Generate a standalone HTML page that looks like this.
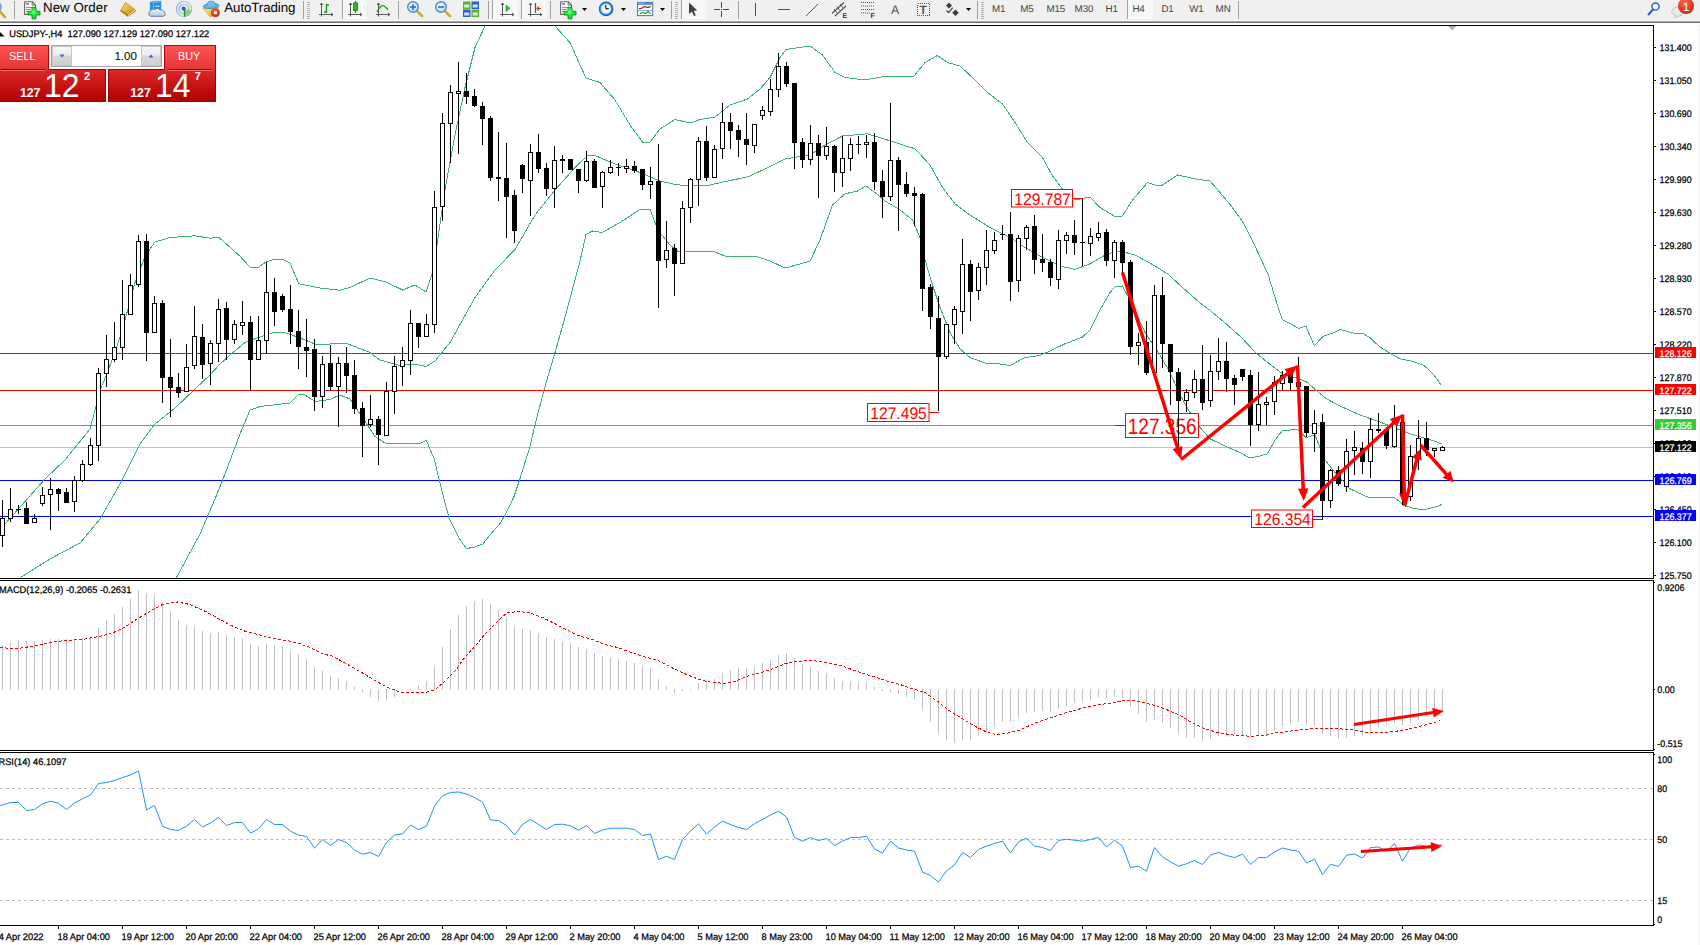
<!DOCTYPE html>
<html><head><meta charset="utf-8"><title>USDJPY-,H4</title>
<style>
html,body{margin:0;padding:0;background:#fff;}
body{width:1700px;height:945px;position:relative;overflow:hidden;font-family:"Liberation Sans",sans-serif;}
svg text{font-family:"Liberation Sans",sans-serif;text-rendering:geometricPrecision;}
.tb{letter-spacing:-0.1px;}
#tbar{position:absolute;left:0;top:0;width:1700px;height:26px;}
#chart{position:absolute;left:0;top:0;width:1700px;height:945px;}
#rstrip{position:absolute;left:1699px;top:23px;width:1px;height:922px;background:#ececec;}
.oc{position:absolute;color:#fff;}
#sell{left:0;top:45px;width:49px;height:25px;z-index:2;background:linear-gradient(#fc5454,#e43434);border:1px solid #b80000;border-bottom:none;border-left:none;box-sizing:border-box;}
#buy{left:164px;top:45px;width:52px;height:25px;z-index:2;background:linear-gradient(#fc5454,#e43434);border:1px solid #b80000;border-bottom:none;box-sizing:border-box;}
#sellp{left:0;top:69px;width:106px;height:33px;background:linear-gradient(#dc2828,#b00000);border:1px solid #a00000;border-left:none;box-sizing:border-box;}
#buyp{left:108px;top:69px;width:108px;height:33px;background:linear-gradient(#dc2828,#b00000);border:1px solid #a00000;box-sizing:border-box;}
.bt{position:absolute;font-size:11.6px;top:3.2px;line-height:13px;transform-origin:0 0;transform:scaleX(0.93);}
.ul{position:absolute;height:1px;background:#8c0000;box-shadow:0 1px 0 #f47070;top:23px;}
.sm{position:absolute;font-weight:bold;font-size:12.4px;line-height:12px;top:16.6px;letter-spacing:-0.1px;}
.bg{position:absolute;font-size:34px;line-height:34px;top:-1.6px;transform-origin:0 0;transform:scaleX(0.938);}
.sp{position:absolute;font-weight:bold;font-size:11px;line-height:11px;top:0.6px;}
#lot{position:absolute;left:51px;top:45px;width:111px;height:22px;border:1px solid #a4a4ac;background:#fff;box-sizing:border-box;}
.spin{position:absolute;top:0px;width:20px;height:20px;background:linear-gradient(#f6f6f6 0%,#ececec 45%,#d8d8d8 50%,#d0d0d0 100%);border:1px solid #c8c8cc;box-sizing:border-box;}
#lotv{position:absolute;right:24px;top:3.2px;font-size:11.6px;line-height:13px;color:#000;}
</style></head><body>
<svg id="chart" width="1700" height="945" viewBox="0 0 1700 945">
<rect x="0" y="25" width="1654" height="1" fill="#000"/>
<rect x="1653" y="25" width="1" height="901" fill="#000"/>
<rect x="0" y="578" width="1654" height="1" fill="#000"/>
<rect x="0" y="580" width="1654" height="1" fill="#000"/>
<rect x="0" y="750" width="1654" height="1" fill="#000"/>
<rect x="0" y="752" width="1654" height="1" fill="#000"/>
<rect x="0" y="925" width="1654" height="1" fill="#000"/>
<clipPath id="cm"><rect x="0" y="26" width="1653" height="552"/></clipPath>
<g clip-path="url(#cm)">
<rect x="0" y="353" width="1653" height="1" fill="#ff0000"/>
<rect x="0" y="390" width="1653" height="1" fill="#ff0000"/>
<rect x="0" y="425" width="1653" height="1" fill="#32cd32"/>
<rect x="0" y="447" width="1653" height="1" fill="#c0c0c0"/>
<rect x="0" y="480" width="1653" height="1" fill="#0000ff"/>
<rect x="0" y="516" width="1653" height="1" fill="#0000ff"/>
<g shape-rendering="crispEdges">
<polyline points="0.0,530.0 5.0,524.0 25.0,501.5 45.0,479.0 65.0,460.0 90.0,429.0 96.0,406.5 100.0,390.0 107.5,372.5 117.5,345.0 125.0,320.0 135.0,282.5 143.8,260.0 150.0,248.8 155.0,242.0 170.0,237.5 195.0,235.8 210.0,238.2 218.8,237.5 227.5,245.0 240.0,256.2 250.0,267.0 258.8,267.0 266.0,262.0 275.0,259.2 282.5,259.2 290.0,263.0 298.8,283.8 320.0,288.0 340.0,290.2 350.0,287.5 370.0,278.0 386.2,282.0 402.5,290.0 415.0,285.0 426.0,292.0 432.5,272.5 437.0,245.0 445.0,190.0 455.0,135.0 465.0,87.5 475.0,47.5 485.0,26.0 488.0,20.0" fill="none" stroke="#3cb371" stroke-width="1"/>
<polyline points="552.0,20.0 555.0,26.0 570.0,42.5 580.0,65.0 586.0,78.0 600.0,82.5 615.0,100.0 630.0,125.0 642.5,142.0 650.0,142.0 660.0,129.0 675.0,119.5 690.0,123.0 700.0,119.5 715.0,117.0 730.0,105.0 747.5,99.0 760.0,89.0 770.0,77.5 780.0,57.5 786.0,49.5 800.0,47.5 810.0,46.0 822.5,55.0 835.0,72.5 845.0,77.5 865.0,80.0 882.5,76.8 900.0,76.0 914.0,76.0 925.0,62.5 937.5,55.5 947.5,62.5 960.0,66.0 975.0,80.0 987.5,92.5 1002.5,104.0 1015.0,122.5 1027.5,142.5 1042.5,157.5 1052.5,176.0 1062.5,189.0 1075.0,200.0 1090.0,197.0 1100.0,207.5 1115.0,216.5 1122.5,216.0 1132.5,200.0 1147.5,182.5 1155.0,185.0 1162.5,185.0 1177.5,175.0 1195.0,178.8 1210.0,181.0 1219.5,192.0 1231.7,206.5 1243.8,223.5 1253.6,243.0 1268.2,274.7 1275.5,299.0 1282.3,319.7 1290.0,323.4 1298.6,328.3 1305.9,326.3 1314.4,345.8 1323.0,336.3 1331.5,333.6 1340.0,329.5 1353.4,333.1 1363.1,333.6 1370.4,338.0 1380.2,347.3 1389.9,353.1 1399.7,358.7 1411.8,361.1 1424.0,365.5 1433.7,374.5 1441.5,385.5" fill="none" stroke="#3cb371" stroke-width="1"/>
<polyline points="20.0,577.8 50.0,559.0 80.0,543.0 100.0,519.0 120.0,484.0 140.0,444.0 155.0,424.0 175.0,408.0 195.0,389.0 210.0,375.0 220.0,364.0 230.0,355.0 245.0,342.5 260.0,337.0 275.0,332.0 285.0,332.5 300.0,338.0 317.5,345.0 332.5,343.8 347.5,343.8 370.0,352.5 380.0,360.0 400.0,365.5 415.0,364.0 426.0,366.5 435.0,361.0 450.0,342.5 475.0,297.5 495.0,270.0 515.0,249.5 535.0,215.0 555.0,190.0 575.0,167.5 587.5,155.5 595.0,155.5 615.0,164.0 640.0,172.5 660.0,181.0 675.0,184.5 690.0,186.0 710.0,185.0 730.0,180.5 747.5,177.0 765.0,169.0 785.0,159.0 810.0,155.0 825.0,145.0 842.5,136.0 867.5,133.8 887.5,140.0 915.0,148.8 930.0,165.0 942.5,187.5 955.0,203.8 970.0,215.0 990.0,227.5 1010.0,237.5 1025.0,247.5 1040.0,256.0 1060.0,266.0 1075.0,269.5 1090.0,263.8 1107.5,253.8 1120.0,251.0 1135.0,255.0 1150.0,263.0 1167.5,273.8 1182.5,287.5 1200.0,303.0 1209.7,310.0 1224.3,322.2 1241.4,337.5 1256.0,353.1 1270.6,364.8 1282.8,374.0 1297.4,378.2 1307.1,382.3 1316.9,391.1 1326.6,398.9 1340.0,406.0 1360.0,415.0 1380.0,422.0 1400.0,430.0 1415.0,435.5 1430.0,439.5 1442.0,444.0" fill="none" stroke="#3cb371" stroke-width="1"/>
<polyline points="176.0,578.5 200.0,534.0 215.0,499.0 225.0,474.0 240.0,434.0 250.0,410.0 260.0,406.5 290.0,403.0 299.0,394.0 305.0,395.0 315.0,401.5 330.0,399.5 340.0,395.0 350.0,399.0 360.0,414.0 375.0,436.5 385.0,443.0 400.0,443.5 419.7,443.5 426.3,440.2 429.5,448.0 434.5,459.5 438.6,477.6 443.5,497.3 449.2,518.6 454.2,528.5 459.1,538.3 466.5,548.5 473.8,547.3 482.9,544.0 491.9,532.6 500.1,523.5 505.0,515.3 514.0,496.5 519.8,479.2 529.6,448.0 535.0,425.0 544.0,390.0 555.0,352.5 565.0,317.5 575.0,280.0 580.0,261.0 586.0,234.5 592.5,231.0 602.5,232.5 620.0,222.5 640.0,209.5 650.0,209.5 655.0,222.5 660.0,232.5 670.0,245.0 677.5,251.0 700.0,251.0 715.0,252.0 725.0,256.0 755.0,256.0 770.0,261.0 785.0,268.0 800.0,264.0 810.0,261.0 820.0,240.0 832.5,205.0 845.0,193.8 857.5,191.0 866.0,186.0 875.0,192.5 885.0,201.0 900.0,210.0 912.5,220.0 920.0,237.5 925.0,260.0 932.5,285.0 940.0,307.5 950.0,332.5 960.0,348.8 970.0,357.5 985.0,363.0 1000.0,364.0 1010.0,365.5 1025.0,357.5 1040.0,355.5 1050.0,351.0 1065.0,343.8 1082.5,337.0 1090.0,330.0 1100.0,310.0 1110.0,292.5 1115.0,286.8 1122.5,286.0 1130.0,300.0 1145.0,332.5 1160.0,355.0 1170.0,372.5 1180.0,395.0 1190.0,412.5 1200.0,427.5 1210.0,438.8 1225.0,446.0 1240.0,452.5 1250.0,458.0 1260.0,456.0 1267.5,453.8 1275.0,440.0 1282.5,430.5 1297.5,429.5 1306.0,437.5 1315.0,435.0 1325.0,460.0 1335.0,472.5 1350.0,488.8 1367.5,497.0 1395.0,498.0 1405.0,506.0 1415.0,508.8 1425.0,509.5 1435.0,507.0 1442.0,504.5" fill="none" stroke="#3cb371" stroke-width="1"/>
</g>
<rect x="1011.5" y="189.5" width="61" height="17.5" fill="#fff" stroke="#ff0000" stroke-width="1"/><text x="1014.3" y="204.6" font-size="16.8" fill="#ff0000" textLength="56.5" lengthAdjust="spacingAndGlyphs">129.787</text>
<rect x="1072" y="198" width="11" height="1" fill="#ff0000"/>
<rect x="867.5" y="403.5" width="61.5" height="18" fill="#fff" stroke="#ff0000" stroke-width="1"/><text x="870.3" y="418.6" font-size="16.8" fill="#ff0000" textLength="56.5" lengthAdjust="spacingAndGlyphs">127.495</text>
<rect x="929" y="412" width="10" height="1" fill="#ff0000"/>
<rect x="1125.5" y="413.5" width="73" height="24" fill="#fff" stroke="#ff0000" stroke-width="1"/><text x="1127.7" y="434" font-size="22.3" fill="#ff0000" textLength="69" lengthAdjust="spacingAndGlyphs">127.356</text>
<rect x="1115" y="425" width="11" height="1" fill="#ff0000"/>
<rect x="1251.5" y="510" width="61" height="17.5" fill="#fff" stroke="#ff0000" stroke-width="1"/><text x="1254.3" y="525.1" font-size="16.8" fill="#ff0000" textLength="56.5" lengthAdjust="spacingAndGlyphs">126.354</text>
<rect x="1312" y="519" width="10" height="1" fill="#ff0000"/>
<g shape-rendering="crispEdges">
<rect x="2" y="500" width="1" height="47" fill="#000"/>
<rect x="0" y="518" width="5" height="18" fill="#000"/>
<rect x="1" y="519" width="3" height="16" fill="#fff"/>
<rect x="10" y="488" width="1" height="34" fill="#000"/>
<rect x="8" y="509" width="5" height="10" fill="#000"/>
<rect x="9" y="510" width="3" height="8" fill="#fff"/>
<rect x="18" y="505" width="1" height="9" fill="#000"/>
<rect x="16" y="509" width="5" height="1" fill="#000"/>
<rect x="26" y="502" width="1" height="22" fill="#000"/>
<rect x="24" y="508" width="5" height="16" fill="#000"/>
<rect x="34" y="514" width="1" height="9" fill="#000"/>
<rect x="32" y="518" width="5" height="5" fill="#000"/>
<rect x="33" y="519" width="3" height="3" fill="#fff"/>
<rect x="42" y="487" width="1" height="19" fill="#000"/>
<rect x="40" y="495" width="5" height="9" fill="#000"/>
<rect x="41" y="496" width="3" height="7" fill="#fff"/>
<rect x="50" y="478" width="1" height="52" fill="#000"/>
<rect x="48" y="489" width="5" height="6" fill="#000"/>
<rect x="49" y="490" width="3" height="4" fill="#fff"/>
<rect x="58" y="488" width="1" height="23" fill="#000"/>
<rect x="56" y="489" width="5" height="5" fill="#000"/>
<rect x="66" y="488" width="1" height="15" fill="#000"/>
<rect x="64" y="492" width="5" height="11" fill="#000"/>
<rect x="74" y="476" width="1" height="36" fill="#000"/>
<rect x="72" y="480" width="5" height="22" fill="#000"/>
<rect x="73" y="481" width="3" height="20" fill="#fff"/>
<rect x="82" y="460" width="1" height="22" fill="#000"/>
<rect x="80" y="464" width="5" height="17" fill="#000"/>
<rect x="81" y="465" width="3" height="15" fill="#fff"/>
<rect x="90" y="438" width="1" height="28" fill="#000"/>
<rect x="88" y="445" width="5" height="20" fill="#000"/>
<rect x="89" y="446" width="3" height="18" fill="#fff"/>
<rect x="98" y="368" width="1" height="93" fill="#000"/>
<rect x="96" y="373" width="5" height="73" fill="#000"/>
<rect x="97" y="374" width="3" height="71" fill="#fff"/>
<rect x="106" y="335" width="1" height="52" fill="#000"/>
<rect x="104" y="359" width="5" height="15" fill="#000"/>
<rect x="105" y="360" width="3" height="13" fill="#fff"/>
<rect x="114" y="322" width="1" height="40" fill="#000"/>
<rect x="112" y="347" width="5" height="13" fill="#000"/>
<rect x="113" y="348" width="3" height="11" fill="#fff"/>
<rect x="122" y="280" width="1" height="80" fill="#000"/>
<rect x="120" y="314" width="5" height="34" fill="#000"/>
<rect x="121" y="315" width="3" height="32" fill="#fff"/>
<rect x="130" y="274" width="1" height="41" fill="#000"/>
<rect x="128" y="285" width="5" height="30" fill="#000"/>
<rect x="129" y="286" width="3" height="28" fill="#fff"/>
<rect x="138" y="235" width="1" height="52" fill="#000"/>
<rect x="136" y="241" width="5" height="44" fill="#000"/>
<rect x="137" y="242" width="3" height="42" fill="#fff"/>
<rect x="146" y="234" width="1" height="127" fill="#000"/>
<rect x="144" y="241" width="5" height="92" fill="#000"/>
<rect x="154" y="296" width="1" height="37" fill="#000"/>
<rect x="152" y="303" width="5" height="30" fill="#000"/>
<rect x="153" y="304" width="3" height="28" fill="#fff"/>
<rect x="162" y="300" width="1" height="103" fill="#000"/>
<rect x="160" y="303" width="5" height="75" fill="#000"/>
<rect x="170" y="339" width="1" height="78" fill="#000"/>
<rect x="168" y="377" width="5" height="11" fill="#000"/>
<rect x="178" y="373" width="1" height="25" fill="#000"/>
<rect x="176" y="387" width="5" height="6" fill="#000"/>
<rect x="186" y="344" width="1" height="48" fill="#000"/>
<rect x="184" y="367" width="5" height="25" fill="#000"/>
<rect x="185" y="368" width="3" height="23" fill="#fff"/>
<rect x="194" y="306" width="1" height="63" fill="#000"/>
<rect x="192" y="336" width="5" height="30" fill="#000"/>
<rect x="193" y="337" width="3" height="28" fill="#fff"/>
<rect x="202" y="324" width="1" height="55" fill="#000"/>
<rect x="200" y="337" width="5" height="28" fill="#000"/>
<rect x="210" y="340" width="1" height="45" fill="#000"/>
<rect x="208" y="343" width="5" height="21" fill="#000"/>
<rect x="209" y="344" width="3" height="19" fill="#fff"/>
<rect x="218" y="299" width="1" height="63" fill="#000"/>
<rect x="216" y="309" width="5" height="35" fill="#000"/>
<rect x="217" y="310" width="3" height="33" fill="#fff"/>
<rect x="226" y="302" width="1" height="58" fill="#000"/>
<rect x="224" y="308" width="5" height="32" fill="#000"/>
<rect x="234" y="320" width="1" height="24" fill="#000"/>
<rect x="232" y="324" width="5" height="16" fill="#000"/>
<rect x="233" y="325" width="3" height="14" fill="#fff"/>
<rect x="242" y="301" width="1" height="34" fill="#000"/>
<rect x="240" y="322" width="5" height="4" fill="#000"/>
<rect x="241" y="323" width="3" height="2" fill="#fff"/>
<rect x="250" y="316" width="1" height="75" fill="#000"/>
<rect x="248" y="322" width="5" height="38" fill="#000"/>
<rect x="258" y="316" width="1" height="44" fill="#000"/>
<rect x="256" y="340" width="5" height="20" fill="#000"/>
<rect x="257" y="341" width="3" height="18" fill="#fff"/>
<rect x="266" y="262" width="1" height="92" fill="#000"/>
<rect x="264" y="292" width="5" height="49" fill="#000"/>
<rect x="265" y="293" width="3" height="47" fill="#fff"/>
<rect x="274" y="278" width="1" height="48" fill="#000"/>
<rect x="272" y="292" width="5" height="20" fill="#000"/>
<rect x="282" y="294" width="1" height="18" fill="#000"/>
<rect x="280" y="296" width="5" height="14" fill="#000"/>
<rect x="290" y="285" width="1" height="59" fill="#000"/>
<rect x="288" y="309" width="5" height="23" fill="#000"/>
<rect x="298" y="310" width="1" height="59" fill="#000"/>
<rect x="296" y="331" width="5" height="16" fill="#000"/>
<rect x="306" y="319" width="1" height="58" fill="#000"/>
<rect x="304" y="347" width="5" height="4" fill="#000"/>
<rect x="314" y="339" width="1" height="72" fill="#000"/>
<rect x="312" y="349" width="5" height="48" fill="#000"/>
<rect x="322" y="356" width="1" height="52" fill="#000"/>
<rect x="320" y="364" width="5" height="33" fill="#000"/>
<rect x="321" y="365" width="3" height="31" fill="#fff"/>
<rect x="330" y="345" width="1" height="46" fill="#000"/>
<rect x="328" y="363" width="5" height="24" fill="#000"/>
<rect x="338" y="357" width="1" height="70" fill="#000"/>
<rect x="336" y="363" width="5" height="24" fill="#000"/>
<rect x="337" y="364" width="3" height="22" fill="#fff"/>
<rect x="346" y="347" width="1" height="46" fill="#000"/>
<rect x="344" y="363" width="5" height="13" fill="#000"/>
<rect x="354" y="360" width="1" height="54" fill="#000"/>
<rect x="352" y="375" width="5" height="34" fill="#000"/>
<rect x="362" y="402" width="1" height="55" fill="#000"/>
<rect x="360" y="408" width="5" height="18" fill="#000"/>
<rect x="370" y="395" width="1" height="32" fill="#000"/>
<rect x="368" y="419" width="5" height="6" fill="#000"/>
<rect x="369" y="420" width="3" height="4" fill="#fff"/>
<rect x="378" y="416" width="1" height="49" fill="#000"/>
<rect x="376" y="419" width="5" height="16" fill="#000"/>
<rect x="386" y="382" width="1" height="54" fill="#000"/>
<rect x="384" y="391" width="5" height="45" fill="#000"/>
<rect x="385" y="392" width="3" height="43" fill="#fff"/>
<rect x="394" y="356" width="1" height="58" fill="#000"/>
<rect x="392" y="366" width="5" height="26" fill="#000"/>
<rect x="393" y="367" width="3" height="24" fill="#fff"/>
<rect x="402" y="347" width="1" height="39" fill="#000"/>
<rect x="400" y="360" width="5" height="7" fill="#000"/>
<rect x="401" y="361" width="3" height="5" fill="#fff"/>
<rect x="410" y="310" width="1" height="65" fill="#000"/>
<rect x="408" y="323" width="5" height="38" fill="#000"/>
<rect x="409" y="324" width="3" height="36" fill="#fff"/>
<rect x="418" y="323" width="1" height="25" fill="#000"/>
<rect x="416" y="323" width="5" height="14" fill="#000"/>
<rect x="426" y="314" width="1" height="23" fill="#000"/>
<rect x="424" y="324" width="5" height="13" fill="#000"/>
<rect x="425" y="325" width="3" height="11" fill="#fff"/>
<rect x="434" y="191" width="1" height="142" fill="#000"/>
<rect x="432" y="207" width="5" height="118" fill="#000"/>
<rect x="433" y="208" width="3" height="116" fill="#fff"/>
<rect x="442" y="113" width="1" height="108" fill="#000"/>
<rect x="440" y="123" width="5" height="84" fill="#000"/>
<rect x="441" y="124" width="3" height="82" fill="#fff"/>
<rect x="450" y="85" width="1" height="78" fill="#000"/>
<rect x="448" y="92" width="5" height="32" fill="#000"/>
<rect x="449" y="93" width="3" height="30" fill="#fff"/>
<rect x="458" y="62" width="1" height="92" fill="#000"/>
<rect x="456" y="91" width="5" height="3" fill="#000"/>
<rect x="457" y="92" width="3" height="1" fill="#fff"/>
<rect x="466" y="73" width="1" height="31" fill="#000"/>
<rect x="464" y="91" width="5" height="6" fill="#000"/>
<rect x="474" y="89" width="1" height="18" fill="#000"/>
<rect x="472" y="96" width="5" height="10" fill="#000"/>
<rect x="482" y="102" width="1" height="43" fill="#000"/>
<rect x="480" y="106" width="5" height="13" fill="#000"/>
<rect x="490" y="116" width="1" height="65" fill="#000"/>
<rect x="488" y="118" width="5" height="60" fill="#000"/>
<rect x="498" y="132" width="1" height="69" fill="#000"/>
<rect x="496" y="177" width="5" height="2" fill="#000"/>
<rect x="506" y="143" width="1" height="95" fill="#000"/>
<rect x="504" y="178" width="5" height="19" fill="#000"/>
<rect x="514" y="190" width="1" height="53" fill="#000"/>
<rect x="512" y="195" width="5" height="36" fill="#000"/>
<rect x="522" y="164" width="1" height="29" fill="#000"/>
<rect x="520" y="165" width="5" height="14" fill="#000"/>
<rect x="530" y="144" width="1" height="72" fill="#000"/>
<rect x="528" y="152" width="5" height="29" fill="#000"/>
<rect x="529" y="153" width="3" height="27" fill="#fff"/>
<rect x="538" y="134" width="1" height="39" fill="#000"/>
<rect x="536" y="152" width="5" height="17" fill="#000"/>
<rect x="546" y="163" width="1" height="33" fill="#000"/>
<rect x="544" y="168" width="5" height="21" fill="#000"/>
<rect x="554" y="146" width="1" height="62" fill="#000"/>
<rect x="552" y="160" width="5" height="29" fill="#000"/>
<rect x="553" y="161" width="3" height="27" fill="#fff"/>
<rect x="562" y="155" width="1" height="18" fill="#000"/>
<rect x="560" y="159" width="5" height="2" fill="#000"/>
<rect x="570" y="159" width="1" height="11" fill="#000"/>
<rect x="568" y="159" width="5" height="11" fill="#000"/>
<rect x="578" y="169" width="1" height="24" fill="#000"/>
<rect x="576" y="169" width="5" height="12" fill="#000"/>
<rect x="586" y="151" width="1" height="31" fill="#000"/>
<rect x="584" y="161" width="5" height="20" fill="#000"/>
<rect x="585" y="162" width="3" height="18" fill="#fff"/>
<rect x="594" y="159" width="1" height="29" fill="#000"/>
<rect x="592" y="161" width="5" height="27" fill="#000"/>
<rect x="602" y="171" width="1" height="37" fill="#000"/>
<rect x="600" y="172" width="5" height="15" fill="#000"/>
<rect x="601" y="173" width="3" height="13" fill="#fff"/>
<rect x="610" y="160" width="1" height="14" fill="#000"/>
<rect x="608" y="167" width="5" height="6" fill="#000"/>
<rect x="609" y="168" width="3" height="4" fill="#fff"/>
<rect x="618" y="163" width="1" height="13" fill="#000"/>
<rect x="616" y="167" width="5" height="1" fill="#000"/>
<rect x="626" y="159" width="1" height="14" fill="#000"/>
<rect x="624" y="166" width="5" height="3" fill="#000"/>
<rect x="625" y="167" width="3" height="1" fill="#fff"/>
<rect x="634" y="161" width="1" height="12" fill="#000"/>
<rect x="632" y="166" width="5" height="5" fill="#000"/>
<rect x="642" y="169" width="1" height="21" fill="#000"/>
<rect x="640" y="169" width="5" height="16" fill="#000"/>
<rect x="650" y="167" width="1" height="32" fill="#000"/>
<rect x="648" y="181" width="5" height="4" fill="#000"/>
<rect x="649" y="182" width="3" height="2" fill="#fff"/>
<rect x="658" y="144" width="1" height="164" fill="#000"/>
<rect x="656" y="181" width="5" height="80" fill="#000"/>
<rect x="666" y="221" width="1" height="47" fill="#000"/>
<rect x="664" y="250" width="5" height="10" fill="#000"/>
<rect x="665" y="251" width="3" height="8" fill="#fff"/>
<rect x="674" y="244" width="1" height="52" fill="#000"/>
<rect x="672" y="248" width="5" height="16" fill="#000"/>
<rect x="682" y="201" width="1" height="63" fill="#000"/>
<rect x="680" y="208" width="5" height="56" fill="#000"/>
<rect x="681" y="209" width="3" height="54" fill="#fff"/>
<rect x="690" y="178" width="1" height="45" fill="#000"/>
<rect x="688" y="179" width="5" height="29" fill="#000"/>
<rect x="689" y="180" width="3" height="27" fill="#fff"/>
<rect x="698" y="137" width="1" height="69" fill="#000"/>
<rect x="696" y="141" width="5" height="39" fill="#000"/>
<rect x="697" y="142" width="3" height="37" fill="#fff"/>
<rect x="706" y="126" width="1" height="55" fill="#000"/>
<rect x="704" y="141" width="5" height="37" fill="#000"/>
<rect x="714" y="145" width="1" height="33" fill="#000"/>
<rect x="712" y="149" width="5" height="29" fill="#000"/>
<rect x="713" y="150" width="3" height="27" fill="#fff"/>
<rect x="722" y="103" width="1" height="56" fill="#000"/>
<rect x="720" y="122" width="5" height="27" fill="#000"/>
<rect x="721" y="123" width="3" height="25" fill="#fff"/>
<rect x="730" y="113" width="1" height="36" fill="#000"/>
<rect x="728" y="122" width="5" height="9" fill="#000"/>
<rect x="738" y="125" width="1" height="32" fill="#000"/>
<rect x="736" y="130" width="5" height="10" fill="#000"/>
<rect x="746" y="113" width="1" height="52" fill="#000"/>
<rect x="744" y="139" width="5" height="6" fill="#000"/>
<rect x="754" y="124" width="1" height="29" fill="#000"/>
<rect x="752" y="124" width="5" height="22" fill="#000"/>
<rect x="753" y="125" width="3" height="20" fill="#fff"/>
<rect x="762" y="106" width="1" height="14" fill="#000"/>
<rect x="760" y="110" width="5" height="6" fill="#000"/>
<rect x="761" y="111" width="3" height="4" fill="#fff"/>
<rect x="770" y="79" width="1" height="37" fill="#000"/>
<rect x="768" y="89" width="5" height="23" fill="#000"/>
<rect x="769" y="90" width="3" height="21" fill="#fff"/>
<rect x="778" y="53" width="1" height="44" fill="#000"/>
<rect x="776" y="66" width="5" height="24" fill="#000"/>
<rect x="777" y="67" width="3" height="22" fill="#fff"/>
<rect x="786" y="62" width="1" height="25" fill="#000"/>
<rect x="784" y="66" width="5" height="18" fill="#000"/>
<rect x="794" y="83" width="1" height="86" fill="#000"/>
<rect x="792" y="83" width="5" height="60" fill="#000"/>
<rect x="802" y="138" width="1" height="30" fill="#000"/>
<rect x="800" y="142" width="5" height="18" fill="#000"/>
<rect x="810" y="125" width="1" height="40" fill="#000"/>
<rect x="808" y="143" width="5" height="17" fill="#000"/>
<rect x="809" y="144" width="3" height="15" fill="#fff"/>
<rect x="818" y="135" width="1" height="63" fill="#000"/>
<rect x="816" y="143" width="5" height="13" fill="#000"/>
<rect x="826" y="127" width="1" height="33" fill="#000"/>
<rect x="824" y="146" width="5" height="10" fill="#000"/>
<rect x="825" y="147" width="3" height="8" fill="#fff"/>
<rect x="834" y="145" width="1" height="47" fill="#000"/>
<rect x="832" y="146" width="5" height="27" fill="#000"/>
<rect x="842" y="136" width="1" height="51" fill="#000"/>
<rect x="840" y="158" width="5" height="15" fill="#000"/>
<rect x="841" y="159" width="3" height="13" fill="#fff"/>
<rect x="850" y="138" width="1" height="33" fill="#000"/>
<rect x="848" y="144" width="5" height="15" fill="#000"/>
<rect x="849" y="145" width="3" height="13" fill="#fff"/>
<rect x="858" y="136" width="1" height="18" fill="#000"/>
<rect x="856" y="144" width="5" height="1" fill="#000"/>
<rect x="866" y="135" width="1" height="23" fill="#000"/>
<rect x="864" y="142" width="5" height="3" fill="#000"/>
<rect x="865" y="143" width="3" height="1" fill="#fff"/>
<rect x="874" y="133" width="1" height="57" fill="#000"/>
<rect x="872" y="142" width="5" height="40" fill="#000"/>
<rect x="882" y="170" width="1" height="48" fill="#000"/>
<rect x="880" y="181" width="5" height="16" fill="#000"/>
<rect x="890" y="103" width="1" height="98" fill="#000"/>
<rect x="888" y="160" width="5" height="37" fill="#000"/>
<rect x="889" y="161" width="3" height="35" fill="#fff"/>
<rect x="898" y="157" width="1" height="74" fill="#000"/>
<rect x="896" y="160" width="5" height="25" fill="#000"/>
<rect x="906" y="172" width="1" height="25" fill="#000"/>
<rect x="904" y="184" width="5" height="10" fill="#000"/>
<rect x="914" y="187" width="1" height="39" fill="#000"/>
<rect x="912" y="193" width="5" height="3" fill="#000"/>
<rect x="922" y="193" width="1" height="118" fill="#000"/>
<rect x="920" y="194" width="5" height="95" fill="#000"/>
<rect x="930" y="284" width="1" height="45" fill="#000"/>
<rect x="928" y="287" width="5" height="30" fill="#000"/>
<rect x="938" y="296" width="1" height="115" fill="#000"/>
<rect x="936" y="318" width="5" height="39" fill="#000"/>
<rect x="946" y="324" width="1" height="35" fill="#000"/>
<rect x="944" y="324" width="5" height="33" fill="#000"/>
<rect x="945" y="325" width="3" height="31" fill="#fff"/>
<rect x="954" y="306" width="1" height="38" fill="#000"/>
<rect x="952" y="309" width="5" height="16" fill="#000"/>
<rect x="953" y="310" width="3" height="14" fill="#fff"/>
<rect x="962" y="239" width="1" height="95" fill="#000"/>
<rect x="960" y="264" width="5" height="48" fill="#000"/>
<rect x="961" y="265" width="3" height="46" fill="#fff"/>
<rect x="970" y="260" width="1" height="61" fill="#000"/>
<rect x="968" y="264" width="5" height="28" fill="#000"/>
<rect x="978" y="263" width="1" height="37" fill="#000"/>
<rect x="976" y="267" width="5" height="24" fill="#000"/>
<rect x="977" y="268" width="3" height="22" fill="#fff"/>
<rect x="986" y="230" width="1" height="55" fill="#000"/>
<rect x="984" y="250" width="5" height="18" fill="#000"/>
<rect x="985" y="251" width="3" height="16" fill="#fff"/>
<rect x="994" y="232" width="1" height="22" fill="#000"/>
<rect x="992" y="240" width="5" height="11" fill="#000"/>
<rect x="993" y="241" width="3" height="9" fill="#fff"/>
<rect x="1002" y="225" width="1" height="15" fill="#000"/>
<rect x="1000" y="234" width="5" height="1" fill="#000"/>
<rect x="1010" y="212" width="1" height="89" fill="#000"/>
<rect x="1008" y="234" width="5" height="48" fill="#000"/>
<rect x="1018" y="235" width="1" height="57" fill="#000"/>
<rect x="1016" y="238" width="5" height="43" fill="#000"/>
<rect x="1017" y="239" width="3" height="41" fill="#fff"/>
<rect x="1026" y="225" width="1" height="25" fill="#000"/>
<rect x="1024" y="227" width="5" height="12" fill="#000"/>
<rect x="1025" y="228" width="3" height="10" fill="#fff"/>
<rect x="1034" y="215" width="1" height="59" fill="#000"/>
<rect x="1032" y="226" width="5" height="34" fill="#000"/>
<rect x="1042" y="234" width="1" height="38" fill="#000"/>
<rect x="1040" y="259" width="5" height="4" fill="#000"/>
<rect x="1050" y="259" width="1" height="27" fill="#000"/>
<rect x="1048" y="262" width="5" height="16" fill="#000"/>
<rect x="1058" y="230" width="1" height="59" fill="#000"/>
<rect x="1056" y="240" width="5" height="40" fill="#000"/>
<rect x="1057" y="241" width="3" height="38" fill="#fff"/>
<rect x="1066" y="232" width="1" height="22" fill="#000"/>
<rect x="1064" y="235" width="5" height="6" fill="#000"/>
<rect x="1065" y="236" width="3" height="4" fill="#fff"/>
<rect x="1074" y="220" width="1" height="35" fill="#000"/>
<rect x="1072" y="235" width="5" height="8" fill="#000"/>
<rect x="1082" y="199" width="1" height="67" fill="#000"/>
<rect x="1080" y="242" width="5" height="1" fill="#000"/>
<rect x="1090" y="228" width="1" height="28" fill="#000"/>
<rect x="1088" y="236" width="5" height="8" fill="#000"/>
<rect x="1089" y="237" width="3" height="6" fill="#fff"/>
<rect x="1098" y="222" width="1" height="19" fill="#000"/>
<rect x="1096" y="233" width="5" height="5" fill="#000"/>
<rect x="1097" y="234" width="3" height="3" fill="#fff"/>
<rect x="1106" y="229" width="1" height="37" fill="#000"/>
<rect x="1104" y="232" width="5" height="29" fill="#000"/>
<rect x="1114" y="240" width="1" height="38" fill="#000"/>
<rect x="1112" y="242" width="5" height="19" fill="#000"/>
<rect x="1113" y="243" width="3" height="17" fill="#fff"/>
<rect x="1122" y="240" width="1" height="33" fill="#000"/>
<rect x="1120" y="242" width="5" height="21" fill="#000"/>
<rect x="1130" y="260" width="1" height="95" fill="#000"/>
<rect x="1128" y="262" width="5" height="85" fill="#000"/>
<rect x="1138" y="333" width="1" height="32" fill="#000"/>
<rect x="1136" y="342" width="5" height="4" fill="#000"/>
<rect x="1137" y="343" width="3" height="2" fill="#fff"/>
<rect x="1146" y="321" width="1" height="54" fill="#000"/>
<rect x="1144" y="342" width="5" height="31" fill="#000"/>
<rect x="1154" y="285" width="1" height="90" fill="#000"/>
<rect x="1152" y="295" width="5" height="78" fill="#000"/>
<rect x="1153" y="296" width="3" height="76" fill="#fff"/>
<rect x="1162" y="277" width="1" height="91" fill="#000"/>
<rect x="1160" y="295" width="5" height="49" fill="#000"/>
<rect x="1170" y="344" width="1" height="61" fill="#000"/>
<rect x="1168" y="344" width="5" height="28" fill="#000"/>
<rect x="1178" y="368" width="1" height="86" fill="#000"/>
<rect x="1176" y="372" width="5" height="29" fill="#000"/>
<rect x="1186" y="389" width="1" height="23" fill="#000"/>
<rect x="1184" y="392" width="5" height="9" fill="#000"/>
<rect x="1185" y="393" width="3" height="7" fill="#fff"/>
<rect x="1194" y="370" width="1" height="28" fill="#000"/>
<rect x="1192" y="379" width="5" height="14" fill="#000"/>
<rect x="1193" y="380" width="3" height="12" fill="#fff"/>
<rect x="1202" y="345" width="1" height="65" fill="#000"/>
<rect x="1200" y="379" width="5" height="24" fill="#000"/>
<rect x="1210" y="355" width="1" height="52" fill="#000"/>
<rect x="1208" y="371" width="5" height="30" fill="#000"/>
<rect x="1209" y="372" width="3" height="28" fill="#fff"/>
<rect x="1218" y="338" width="1" height="42" fill="#000"/>
<rect x="1216" y="361" width="5" height="11" fill="#000"/>
<rect x="1217" y="362" width="3" height="9" fill="#fff"/>
<rect x="1226" y="342" width="1" height="50" fill="#000"/>
<rect x="1224" y="361" width="5" height="18" fill="#000"/>
<rect x="1234" y="375" width="1" height="30" fill="#000"/>
<rect x="1232" y="378" width="5" height="7" fill="#000"/>
<rect x="1242" y="369" width="1" height="12" fill="#000"/>
<rect x="1240" y="369" width="5" height="8" fill="#000"/>
<rect x="1250" y="370" width="1" height="76" fill="#000"/>
<rect x="1248" y="375" width="5" height="50" fill="#000"/>
<rect x="1258" y="372" width="1" height="59" fill="#000"/>
<rect x="1256" y="404" width="5" height="21" fill="#000"/>
<rect x="1257" y="405" width="3" height="19" fill="#fff"/>
<rect x="1266" y="397" width="1" height="28" fill="#000"/>
<rect x="1264" y="402" width="5" height="3" fill="#000"/>
<rect x="1265" y="403" width="3" height="1" fill="#fff"/>
<rect x="1274" y="376" width="1" height="39" fill="#000"/>
<rect x="1272" y="382" width="5" height="20" fill="#000"/>
<rect x="1273" y="383" width="3" height="18" fill="#fff"/>
<rect x="1282" y="371" width="1" height="19" fill="#000"/>
<rect x="1280" y="375" width="5" height="9" fill="#000"/>
<rect x="1281" y="376" width="3" height="7" fill="#fff"/>
<rect x="1290" y="370" width="1" height="20" fill="#000"/>
<rect x="1288" y="374" width="5" height="9" fill="#000"/>
<rect x="1298" y="357" width="1" height="30" fill="#000"/>
<rect x="1296" y="382" width="5" height="5" fill="#000"/>
<rect x="1306" y="386" width="1" height="51" fill="#000"/>
<rect x="1304" y="386" width="5" height="47" fill="#000"/>
<rect x="1314" y="410" width="1" height="42" fill="#000"/>
<rect x="1312" y="423" width="5" height="11" fill="#000"/>
<rect x="1313" y="424" width="3" height="9" fill="#fff"/>
<rect x="1322" y="414" width="1" height="106" fill="#000"/>
<rect x="1320" y="422" width="5" height="79" fill="#000"/>
<rect x="1330" y="469" width="1" height="39" fill="#000"/>
<rect x="1328" y="470" width="5" height="31" fill="#000"/>
<rect x="1329" y="471" width="3" height="29" fill="#fff"/>
<rect x="1338" y="466" width="1" height="20" fill="#000"/>
<rect x="1336" y="470" width="5" height="14" fill="#000"/>
<rect x="1346" y="439" width="1" height="53" fill="#000"/>
<rect x="1344" y="451" width="5" height="36" fill="#000"/>
<rect x="1345" y="452" width="3" height="34" fill="#fff"/>
<rect x="1354" y="431" width="1" height="44" fill="#000"/>
<rect x="1352" y="447" width="5" height="4" fill="#000"/>
<rect x="1353" y="448" width="3" height="2" fill="#fff"/>
<rect x="1362" y="442" width="1" height="32" fill="#000"/>
<rect x="1360" y="448" width="5" height="14" fill="#000"/>
<rect x="1370" y="418" width="1" height="60" fill="#000"/>
<rect x="1368" y="429" width="5" height="33" fill="#000"/>
<rect x="1369" y="430" width="3" height="31" fill="#fff"/>
<rect x="1378" y="413" width="1" height="20" fill="#000"/>
<rect x="1376" y="429" width="5" height="2" fill="#000"/>
<rect x="1386" y="427" width="1" height="22" fill="#000"/>
<rect x="1384" y="429" width="5" height="17" fill="#000"/>
<rect x="1394" y="405" width="1" height="43" fill="#000"/>
<rect x="1392" y="418" width="5" height="29" fill="#000"/>
<rect x="1393" y="419" width="3" height="27" fill="#fff"/>
<rect x="1402" y="419" width="1" height="86" fill="#000"/>
<rect x="1400" y="422" width="5" height="74" fill="#000"/>
<rect x="1410" y="445" width="1" height="56" fill="#000"/>
<rect x="1408" y="456" width="5" height="41" fill="#000"/>
<rect x="1409" y="457" width="3" height="39" fill="#fff"/>
<rect x="1418" y="420" width="1" height="50" fill="#000"/>
<rect x="1416" y="438" width="5" height="19" fill="#000"/>
<rect x="1417" y="439" width="3" height="17" fill="#fff"/>
<rect x="1426" y="422" width="1" height="34" fill="#000"/>
<rect x="1424" y="438" width="5" height="12" fill="#000"/>
<rect x="1434" y="448" width="1" height="9" fill="#000"/>
<rect x="1432" y="448" width="5" height="3" fill="#000"/>
<rect x="1433" y="449" width="3" height="1" fill="#fff"/>
<rect x="1442" y="446" width="1" height="5" fill="#000"/>
<rect x="1440" y="447" width="5" height="4" fill="#000"/>
<rect x="1441" y="448" width="3" height="2" fill="#fff"/>
</g>
<line x1="1122.5" y1="272.5" x2="1178.1" y2="449.5" stroke="#ff0000" stroke-width="3.5"/><polygon points="1181.2,459.5 1172.5,449.1 1182.4,446.0" fill="#ff0000"/>
<line x1="1181.2" y1="459.5" x2="1289.3" y2="372.1" stroke="#ff0000" stroke-width="3.5"/><polygon points="1297.5,365.5 1291.0,377.4 1284.5,369.3" fill="#ff0000"/>
<line x1="1297.5" y1="365.5" x2="1303.3" y2="490.5" stroke="#ff0000" stroke-width="3.5"/><polygon points="1303.8,501.0 1298.0,488.8 1308.4,488.3" fill="#ff0000"/>
<line x1="1303.0" y1="507.5" x2="1394.8" y2="421.7" stroke="#ff0000" stroke-width="3.5"/><polygon points="1402.5,414.5 1396.9,426.8 1389.8,419.2" fill="#ff0000"/>
<line x1="1402.5" y1="414.5" x2="1404.3" y2="495.5" stroke="#ff0000" stroke-width="3.5"/><polygon points="1404.5,506.0 1399.0,493.6 1409.4,493.4" fill="#ff0000"/>
<line x1="1404.5" y1="506.0" x2="1417.4" y2="457.2" stroke="#ff0000" stroke-width="3.5"/><polygon points="1419.5,449.5 1422.0,460.5 1411.9,457.8" fill="#ff0000"/>
<line x1="1420.5" y1="445.0" x2="1447.8" y2="475.8" stroke="#ff0000" stroke-width="3.5"/><polygon points="1453.8,482.5 1442.6,477.7 1450.4,470.8" fill="#ff0000"/>
</g>
<polygon points="1448,26 1456.5,26 1452.2,30.5" fill="#b4b4b4"/>
<g shape-rendering="crispEdges">
<rect x="2" y="645" width="1" height="45" fill="#c0c0c0"/>
<rect x="10" y="642" width="1" height="48" fill="#c0c0c0"/>
<rect x="18" y="640" width="1" height="50" fill="#c0c0c0"/>
<rect x="26" y="641" width="1" height="49" fill="#c0c0c0"/>
<rect x="34" y="641" width="1" height="49" fill="#c0c0c0"/>
<rect x="42" y="640" width="1" height="50" fill="#c0c0c0"/>
<rect x="50" y="639" width="1" height="51" fill="#c0c0c0"/>
<rect x="58" y="639" width="1" height="51" fill="#c0c0c0"/>
<rect x="66" y="639" width="1" height="51" fill="#c0c0c0"/>
<rect x="74" y="639" width="1" height="51" fill="#c0c0c0"/>
<rect x="82" y="638" width="1" height="52" fill="#c0c0c0"/>
<rect x="90" y="636" width="1" height="54" fill="#c0c0c0"/>
<rect x="98" y="628" width="1" height="62" fill="#c0c0c0"/>
<rect x="106" y="620" width="1" height="70" fill="#c0c0c0"/>
<rect x="114" y="614" width="1" height="76" fill="#c0c0c0"/>
<rect x="122" y="607" width="1" height="83" fill="#c0c0c0"/>
<rect x="130" y="599" width="1" height="91" fill="#c0c0c0"/>
<rect x="138" y="590" width="1" height="100" fill="#c0c0c0"/>
<rect x="146" y="593" width="1" height="97" fill="#c0c0c0"/>
<rect x="154" y="594" width="1" height="96" fill="#c0c0c0"/>
<rect x="162" y="602" width="1" height="88" fill="#c0c0c0"/>
<rect x="170" y="611" width="1" height="79" fill="#c0c0c0"/>
<rect x="178" y="620" width="1" height="70" fill="#c0c0c0"/>
<rect x="186" y="625" width="1" height="65" fill="#c0c0c0"/>
<rect x="194" y="626" width="1" height="64" fill="#c0c0c0"/>
<rect x="202" y="631" width="1" height="59" fill="#c0c0c0"/>
<rect x="210" y="633" width="1" height="57" fill="#c0c0c0"/>
<rect x="218" y="632" width="1" height="58" fill="#c0c0c0"/>
<rect x="226" y="635" width="1" height="55" fill="#c0c0c0"/>
<rect x="234" y="637" width="1" height="53" fill="#c0c0c0"/>
<rect x="242" y="638" width="1" height="52" fill="#c0c0c0"/>
<rect x="250" y="644" width="1" height="46" fill="#c0c0c0"/>
<rect x="258" y="646" width="1" height="44" fill="#c0c0c0"/>
<rect x="266" y="644" width="1" height="46" fill="#c0c0c0"/>
<rect x="274" y="645" width="1" height="45" fill="#c0c0c0"/>
<rect x="282" y="646" width="1" height="44" fill="#c0c0c0"/>
<rect x="290" y="650" width="1" height="40" fill="#c0c0c0"/>
<rect x="298" y="654" width="1" height="36" fill="#c0c0c0"/>
<rect x="306" y="659" width="1" height="31" fill="#c0c0c0"/>
<rect x="314" y="667" width="1" height="23" fill="#c0c0c0"/>
<rect x="322" y="671" width="1" height="19" fill="#c0c0c0"/>
<rect x="330" y="676" width="1" height="14" fill="#c0c0c0"/>
<rect x="338" y="678" width="1" height="12" fill="#c0c0c0"/>
<rect x="346" y="681" width="1" height="9" fill="#c0c0c0"/>
<rect x="354" y="687" width="1" height="3" fill="#c0c0c0"/>
<rect x="362" y="689" width="1" height="3" fill="#c0c0c0"/>
<rect x="370" y="689" width="1" height="8" fill="#c0c0c0"/>
<rect x="378" y="689" width="1" height="12" fill="#c0c0c0"/>
<rect x="386" y="689" width="1" height="11" fill="#c0c0c0"/>
<rect x="394" y="689" width="1" height="8" fill="#c0c0c0"/>
<rect x="402" y="689" width="1" height="1" fill="#c0c0c0"/>
<rect x="410" y="689" width="1" height="1" fill="#c0c0c0"/>
<rect x="418" y="685" width="1" height="5" fill="#c0c0c0"/>
<rect x="426" y="681" width="1" height="9" fill="#c0c0c0"/>
<rect x="434" y="666" width="1" height="24" fill="#c0c0c0"/>
<rect x="442" y="647" width="1" height="43" fill="#c0c0c0"/>
<rect x="450" y="629" width="1" height="61" fill="#c0c0c0"/>
<rect x="458" y="615" width="1" height="75" fill="#c0c0c0"/>
<rect x="466" y="606" width="1" height="84" fill="#c0c0c0"/>
<rect x="474" y="601" width="1" height="89" fill="#c0c0c0"/>
<rect x="482" y="599" width="1" height="91" fill="#c0c0c0"/>
<rect x="490" y="604" width="1" height="86" fill="#c0c0c0"/>
<rect x="498" y="610" width="1" height="80" fill="#c0c0c0"/>
<rect x="506" y="617" width="1" height="73" fill="#c0c0c0"/>
<rect x="514" y="626" width="1" height="64" fill="#c0c0c0"/>
<rect x="522" y="629" width="1" height="61" fill="#c0c0c0"/>
<rect x="530" y="630" width="1" height="60" fill="#c0c0c0"/>
<rect x="538" y="633" width="1" height="57" fill="#c0c0c0"/>
<rect x="546" y="637" width="1" height="53" fill="#c0c0c0"/>
<rect x="554" y="639" width="1" height="51" fill="#c0c0c0"/>
<rect x="562" y="641" width="1" height="49" fill="#c0c0c0"/>
<rect x="570" y="643" width="1" height="47" fill="#c0c0c0"/>
<rect x="578" y="647" width="1" height="43" fill="#c0c0c0"/>
<rect x="586" y="649" width="1" height="41" fill="#c0c0c0"/>
<rect x="594" y="653" width="1" height="37" fill="#c0c0c0"/>
<rect x="602" y="656" width="1" height="34" fill="#c0c0c0"/>
<rect x="610" y="657" width="1" height="33" fill="#c0c0c0"/>
<rect x="618" y="659" width="1" height="31" fill="#c0c0c0"/>
<rect x="626" y="661" width="1" height="29" fill="#c0c0c0"/>
<rect x="634" y="663" width="1" height="27" fill="#c0c0c0"/>
<rect x="642" y="666" width="1" height="24" fill="#c0c0c0"/>
<rect x="650" y="668" width="1" height="22" fill="#c0c0c0"/>
<rect x="658" y="679" width="1" height="11" fill="#c0c0c0"/>
<rect x="666" y="686" width="1" height="4" fill="#c0c0c0"/>
<rect x="674" y="689" width="1" height="4" fill="#c0c0c0"/>
<rect x="682" y="689" width="1" height="2" fill="#c0c0c0"/>
<rect x="690" y="689" width="1" height="1" fill="#c0c0c0"/>
<rect x="698" y="683" width="1" height="7" fill="#c0c0c0"/>
<rect x="706" y="681" width="1" height="9" fill="#c0c0c0"/>
<rect x="714" y="679" width="1" height="11" fill="#c0c0c0"/>
<rect x="722" y="673" width="1" height="17" fill="#c0c0c0"/>
<rect x="730" y="670" width="1" height="20" fill="#c0c0c0"/>
<rect x="738" y="668" width="1" height="22" fill="#c0c0c0"/>
<rect x="746" y="668" width="1" height="22" fill="#c0c0c0"/>
<rect x="754" y="666" width="1" height="24" fill="#c0c0c0"/>
<rect x="762" y="663" width="1" height="27" fill="#c0c0c0"/>
<rect x="770" y="660" width="1" height="30" fill="#c0c0c0"/>
<rect x="778" y="655" width="1" height="35" fill="#c0c0c0"/>
<rect x="786" y="653" width="1" height="37" fill="#c0c0c0"/>
<rect x="794" y="658" width="1" height="32" fill="#c0c0c0"/>
<rect x="802" y="664" width="1" height="26" fill="#c0c0c0"/>
<rect x="810" y="667" width="1" height="23" fill="#c0c0c0"/>
<rect x="818" y="671" width="1" height="19" fill="#c0c0c0"/>
<rect x="826" y="673" width="1" height="17" fill="#c0c0c0"/>
<rect x="834" y="678" width="1" height="12" fill="#c0c0c0"/>
<rect x="842" y="681" width="1" height="9" fill="#c0c0c0"/>
<rect x="850" y="681" width="1" height="9" fill="#c0c0c0"/>
<rect x="858" y="682" width="1" height="8" fill="#c0c0c0"/>
<rect x="866" y="682" width="1" height="8" fill="#c0c0c0"/>
<rect x="874" y="687" width="1" height="3" fill="#c0c0c0"/>
<rect x="882" y="689" width="1" height="2" fill="#c0c0c0"/>
<rect x="890" y="689" width="1" height="3" fill="#c0c0c0"/>
<rect x="898" y="689" width="1" height="5" fill="#c0c0c0"/>
<rect x="906" y="689" width="1" height="8" fill="#c0c0c0"/>
<rect x="914" y="689" width="1" height="10" fill="#c0c0c0"/>
<rect x="922" y="689" width="1" height="21" fill="#c0c0c0"/>
<rect x="930" y="689" width="1" height="33" fill="#c0c0c0"/>
<rect x="938" y="689" width="1" height="45" fill="#c0c0c0"/>
<rect x="946" y="689" width="1" height="51" fill="#c0c0c0"/>
<rect x="954" y="689" width="1" height="54" fill="#c0c0c0"/>
<rect x="962" y="689" width="1" height="51" fill="#c0c0c0"/>
<rect x="970" y="689" width="1" height="51" fill="#c0c0c0"/>
<rect x="978" y="689" width="1" height="47" fill="#c0c0c0"/>
<rect x="986" y="689" width="1" height="44" fill="#c0c0c0"/>
<rect x="994" y="689" width="1" height="38" fill="#c0c0c0"/>
<rect x="1002" y="689" width="1" height="33" fill="#c0c0c0"/>
<rect x="1010" y="689" width="1" height="33" fill="#c0c0c0"/>
<rect x="1018" y="689" width="1" height="29" fill="#c0c0c0"/>
<rect x="1026" y="689" width="1" height="24" fill="#c0c0c0"/>
<rect x="1034" y="689" width="1" height="23" fill="#c0c0c0"/>
<rect x="1042" y="689" width="1" height="22" fill="#c0c0c0"/>
<rect x="1050" y="689" width="1" height="23" fill="#c0c0c0"/>
<rect x="1058" y="689" width="1" height="20" fill="#c0c0c0"/>
<rect x="1066" y="689" width="1" height="17" fill="#c0c0c0"/>
<rect x="1074" y="689" width="1" height="14" fill="#c0c0c0"/>
<rect x="1082" y="689" width="1" height="13" fill="#c0c0c0"/>
<rect x="1090" y="689" width="1" height="11" fill="#c0c0c0"/>
<rect x="1098" y="689" width="1" height="8" fill="#c0c0c0"/>
<rect x="1106" y="689" width="1" height="9" fill="#c0c0c0"/>
<rect x="1114" y="689" width="1" height="8" fill="#c0c0c0"/>
<rect x="1122" y="689" width="1" height="9" fill="#c0c0c0"/>
<rect x="1130" y="689" width="1" height="18" fill="#c0c0c0"/>
<rect x="1138" y="689" width="1" height="25" fill="#c0c0c0"/>
<rect x="1146" y="689" width="1" height="33" fill="#c0c0c0"/>
<rect x="1154" y="689" width="1" height="31" fill="#c0c0c0"/>
<rect x="1162" y="689" width="1" height="34" fill="#c0c0c0"/>
<rect x="1170" y="689" width="1" height="39" fill="#c0c0c0"/>
<rect x="1178" y="689" width="1" height="45" fill="#c0c0c0"/>
<rect x="1186" y="689" width="1" height="49" fill="#c0c0c0"/>
<rect x="1194" y="689" width="1" height="49" fill="#c0c0c0"/>
<rect x="1202" y="689" width="1" height="52" fill="#c0c0c0"/>
<rect x="1210" y="689" width="1" height="50" fill="#c0c0c0"/>
<rect x="1218" y="689" width="1" height="47" fill="#c0c0c0"/>
<rect x="1226" y="689" width="1" height="46" fill="#c0c0c0"/>
<rect x="1234" y="689" width="1" height="45" fill="#c0c0c0"/>
<rect x="1242" y="689" width="1" height="46" fill="#c0c0c0"/>
<rect x="1250" y="689" width="1" height="47" fill="#c0c0c0"/>
<rect x="1258" y="689" width="1" height="47" fill="#c0c0c0"/>
<rect x="1266" y="689" width="1" height="46" fill="#c0c0c0"/>
<rect x="1274" y="689" width="1" height="42" fill="#c0c0c0"/>
<rect x="1282" y="689" width="1" height="38" fill="#c0c0c0"/>
<rect x="1290" y="689" width="1" height="35" fill="#c0c0c0"/>
<rect x="1298" y="689" width="1" height="33" fill="#c0c0c0"/>
<rect x="1306" y="689" width="1" height="36" fill="#c0c0c0"/>
<rect x="1314" y="689" width="1" height="37" fill="#c0c0c0"/>
<rect x="1322" y="689" width="1" height="45" fill="#c0c0c0"/>
<rect x="1330" y="689" width="1" height="47" fill="#c0c0c0"/>
<rect x="1338" y="689" width="1" height="50" fill="#c0c0c0"/>
<rect x="1346" y="689" width="1" height="49" fill="#c0c0c0"/>
<rect x="1354" y="689" width="1" height="47" fill="#c0c0c0"/>
<rect x="1362" y="689" width="1" height="46" fill="#c0c0c0"/>
<rect x="1370" y="689" width="1" height="42" fill="#c0c0c0"/>
<rect x="1378" y="689" width="1" height="38" fill="#c0c0c0"/>
<rect x="1386" y="689" width="1" height="36" fill="#c0c0c0"/>
<rect x="1394" y="689" width="1" height="34" fill="#c0c0c0"/>
<rect x="1402" y="689" width="1" height="36" fill="#c0c0c0"/>
<rect x="1410" y="689" width="1" height="34" fill="#c0c0c0"/>
<rect x="1418" y="689" width="1" height="31" fill="#c0c0c0"/>
<rect x="1426" y="689" width="1" height="28" fill="#c0c0c0"/>
<rect x="1434" y="689" width="1" height="27" fill="#c0c0c0"/>
<rect x="1442" y="689" width="1" height="24" fill="#c0c0c0"/>
</g>
<polyline points="0.0,647.0 10.0,648.8 20.0,648.2 40.0,645.0 50.0,642.5 65.0,640.5 82.5,639.5 100.0,636.2 112.5,633.0 125.0,627.0 137.5,618.8 150.0,611.2 162.5,604.5 177.5,602.0 190.0,604.5 205.0,611.2 220.0,619.5 230.0,625.0 245.0,631.2 260.0,635.0 275.0,638.8 290.0,641.2 300.0,643.8 310.0,647.5 322.5,653.8 332.5,656.2 347.5,664.5 362.5,673.0 375.0,680.5 387.5,687.5 400.0,692.0 412.5,693.0 425.0,692.5 435.0,690.0 445.0,681.2 456.2,670.0 462.5,660.0 475.0,646.2 487.5,631.2 500.0,618.8 507.5,612.5 520.0,611.5 530.0,613.0 542.5,617.5 555.0,623.8 567.5,630.5 580.0,636.2 592.5,639.5 605.0,644.5 617.5,647.5 632.5,653.0 645.0,657.0 660.0,661.2 672.5,668.0 685.0,673.8 697.5,678.8 707.5,681.8 717.5,682.5 725.0,683.8 735.0,681.2 747.5,676.2 760.0,673.0 772.5,668.8 785.0,663.8 795.0,661.5 812.5,660.5 825.0,662.5 837.5,664.5 850.0,668.8 860.0,672.5 875.0,677.0 887.5,681.2 900.0,684.5 912.5,688.8 925.0,692.5 937.5,701.2 950.0,711.2 962.5,718.8 975.0,726.2 987.5,732.5 995.0,734.2 1005.0,733.8 1020.0,730.0 1035.0,723.0 1050.0,718.0 1065.0,713.0 1085.0,707.5 1100.0,704.5 1115.0,702.5 1122.5,700.5 1132.5,700.5 1142.5,702.5 1155.0,705.5 1167.5,710.0 1180.0,715.5 1192.5,723.0 1205.0,728.8 1217.5,732.5 1232.5,735.0 1250.0,736.2 1265.0,735.5 1275.0,733.0 1295.0,730.5 1315.0,728.5 1335.0,728.5 1355.0,730.0 1367.5,732.5 1382.5,733.0 1405.0,730.0 1420.0,726.2 1430.0,723.8 1440.0,720.8" fill="none" stroke="#ff0000" stroke-width="1" stroke-dasharray="3,2" shape-rendering="crispEdges"/>
<line x1="1353.8" y1="724.5" x2="1434.9" y2="712.3" stroke="#ff0000" stroke-width="3"/><polygon points="1443.8,711.0 1433.7,717.6 1432.2,707.7" fill="#ff0000"/>
<line x1="0" y1="788.5" x2="1653" y2="788.5" stroke="#c0c0c0" stroke-width="1" stroke-dasharray="3,3" shape-rendering="crispEdges"/>
<line x1="0" y1="839.5" x2="1653" y2="839.5" stroke="#c0c0c0" stroke-width="1" stroke-dasharray="3,3" shape-rendering="crispEdges"/>
<line x1="0" y1="900.5" x2="1653" y2="900.5" stroke="#c0c0c0" stroke-width="1" stroke-dasharray="3,3" shape-rendering="crispEdges"/>
<polyline points="-6.0,806.0 2.5,805.0 10.5,802.5 18.5,802.5 26.5,810.5 34.5,809.5 42.5,803.8 50.5,801.2 58.5,803.2 66.5,809.5 74.5,803.0 82.5,798.8 90.5,795.0 98.5,783.5 106.5,782.5 114.5,780.5 122.5,777.5 130.5,775.0 138.5,771.0 146.5,810.0 154.5,805.5 162.5,826.2 170.5,829.5 178.5,830.5 186.5,826.2 194.5,819.5 202.5,827.0 210.5,823.0 218.5,817.5 226.5,825.5 234.5,822.5 242.5,822.5 250.5,833.2 258.5,828.8 266.5,819.5 274.5,824.5 282.5,824.5 290.5,831.2 298.5,835.0 306.5,836.5 314.5,848.2 322.5,839.5 330.5,845.5 338.5,839.5 346.5,842.5 354.5,850.0 362.5,854.2 370.5,852.5 378.5,856.5 386.5,842.5 394.5,835.0 402.5,834.0 410.5,825.0 418.5,829.5 426.5,826.2 434.5,806.2 442.5,795.8 450.5,792.5 458.5,792.0 466.5,794.0 474.5,797.5 482.5,802.0 490.5,820.0 498.5,820.5 506.5,825.5 514.5,835.0 522.5,824.5 530.5,819.5 538.5,824.5 546.5,829.5 554.5,824.5 562.5,824.2 570.5,825.8 578.5,830.2 586.5,825.5 594.5,833.5 602.5,830.0 610.5,828.2 618.5,828.2 626.5,828.2 634.5,829.5 642.5,835.5 650.5,834.0 658.5,859.5 666.5,856.2 674.5,859.5 682.5,839.5 690.5,831.2 698.5,823.8 706.5,834.2 714.5,827.0 722.5,821.2 730.5,824.5 738.5,827.5 746.5,829.5 754.5,823.8 762.5,819.5 770.5,815.0 778.5,811.2 786.5,817.0 794.5,837.5 802.5,841.2 810.5,837.5 818.5,840.5 826.5,838.5 834.5,845.5 842.5,841.2 850.5,837.5 858.5,837.5 866.5,836.2 874.5,849.0 882.5,853.0 890.5,841.2 898.5,848.0 906.5,850.0 914.5,851.2 922.5,872.0 930.5,875.5 938.5,882.0 946.5,870.8 954.5,865.0 962.5,852.5 970.5,857.5 978.5,849.5 986.5,846.2 994.5,843.5 1002.5,841.2 1010.5,853.0 1018.5,841.8 1026.5,838.2 1034.5,846.2 1042.5,847.5 1050.5,850.5 1058.5,840.5 1066.5,839.2 1074.5,840.2 1082.5,841.2 1090.5,839.5 1098.5,837.5 1106.5,847.0 1114.5,840.2 1122.5,846.2 1130.5,867.5 1138.5,866.2 1146.5,871.2 1154.5,847.5 1162.5,856.8 1170.5,861.8 1178.5,866.2 1186.5,863.8 1194.5,860.5 1202.5,864.5 1210.5,855.0 1218.5,852.5 1226.5,855.5 1234.5,857.5 1242.5,854.2 1250.5,864.5 1258.5,857.5 1266.5,857.5 1274.5,851.8 1282.5,848.0 1290.5,850.0 1298.5,851.2 1306.5,863.0 1314.5,859.2 1322.5,874.5 1330.5,864.2 1338.5,866.5 1346.5,855.2 1354.5,854.0 1362.5,858.0 1370.5,847.5 1378.5,847.0 1386.5,851.2 1394.5,843.5 1402.5,861.2 1410.5,848.0 1418.5,845.0 1426.5,846.2 1434.5,845.0 1442.5,845.0" fill="none" stroke="#1e90ff" stroke-width="1"/>
<line x1="1361.0" y1="851.5" x2="1433.0" y2="846.8" stroke="#ff0000" stroke-width="3"/><polygon points="1442.0,846.2 1431.3,851.9 1430.7,841.9" fill="#ff0000"/>
<rect x="1654" y="47" width="2" height="1" fill="#000"/>
<text x="1659.5" y="50.9" font-size="9.6" textLength="32.1" lengthAdjust="spacingAndGlyphs" stroke="#000" stroke-width="0.25">131.400</text>
<rect x="1654" y="80" width="2" height="1" fill="#000"/>
<text x="1659.5" y="83.9" font-size="9.6" textLength="32.1" lengthAdjust="spacingAndGlyphs" stroke="#000" stroke-width="0.25">131.050</text>
<rect x="1654" y="113" width="2" height="1" fill="#000"/>
<text x="1659.5" y="116.9" font-size="9.6" textLength="32.1" lengthAdjust="spacingAndGlyphs" stroke="#000" stroke-width="0.25">130.690</text>
<rect x="1654" y="146" width="2" height="1" fill="#000"/>
<text x="1659.5" y="149.9" font-size="9.6" textLength="32.1" lengthAdjust="spacingAndGlyphs" stroke="#000" stroke-width="0.25">130.340</text>
<rect x="1654" y="179" width="2" height="1" fill="#000"/>
<text x="1659.5" y="182.9" font-size="9.6" textLength="32.1" lengthAdjust="spacingAndGlyphs" stroke="#000" stroke-width="0.25">129.990</text>
<rect x="1654" y="212" width="2" height="1" fill="#000"/>
<text x="1659.5" y="215.9" font-size="9.6" textLength="32.1" lengthAdjust="spacingAndGlyphs" stroke="#000" stroke-width="0.25">129.630</text>
<rect x="1654" y="245" width="2" height="1" fill="#000"/>
<text x="1659.5" y="248.9" font-size="9.6" textLength="32.1" lengthAdjust="spacingAndGlyphs" stroke="#000" stroke-width="0.25">129.280</text>
<rect x="1654" y="278" width="2" height="1" fill="#000"/>
<text x="1659.5" y="281.9" font-size="9.6" textLength="32.1" lengthAdjust="spacingAndGlyphs" stroke="#000" stroke-width="0.25">128.930</text>
<rect x="1654" y="311" width="2" height="1" fill="#000"/>
<text x="1659.5" y="314.9" font-size="9.6" textLength="32.1" lengthAdjust="spacingAndGlyphs" stroke="#000" stroke-width="0.25">128.570</text>
<rect x="1654" y="344" width="2" height="1" fill="#000"/>
<text x="1659.5" y="347.9" font-size="9.6" textLength="32.1" lengthAdjust="spacingAndGlyphs" stroke="#000" stroke-width="0.25">128.220</text>
<rect x="1654" y="377" width="2" height="1" fill="#000"/>
<text x="1659.5" y="380.9" font-size="9.6" textLength="32.1" lengthAdjust="spacingAndGlyphs" stroke="#000" stroke-width="0.25">127.870</text>
<rect x="1654" y="410" width="2" height="1" fill="#000"/>
<text x="1659.5" y="413.9" font-size="9.6" textLength="32.1" lengthAdjust="spacingAndGlyphs" stroke="#000" stroke-width="0.25">127.510</text>
<rect x="1654" y="443" width="2" height="1" fill="#000"/>
<text x="1659.5" y="446.9" font-size="9.6" textLength="32.1" lengthAdjust="spacingAndGlyphs" stroke="#000" stroke-width="0.25">127.160</text>
<rect x="1654" y="476" width="2" height="1" fill="#000"/>
<text x="1659.5" y="479.9" font-size="9.6" textLength="32.1" lengthAdjust="spacingAndGlyphs" stroke="#000" stroke-width="0.25">126.810</text>
<rect x="1654" y="509" width="2" height="1" fill="#000"/>
<text x="1659.5" y="512.9" font-size="9.6" textLength="32.1" lengthAdjust="spacingAndGlyphs" stroke="#000" stroke-width="0.25">126.450</text>
<rect x="1654" y="542" width="2" height="1" fill="#000"/>
<text x="1659.5" y="545.9" font-size="9.6" textLength="32.1" lengthAdjust="spacingAndGlyphs" stroke="#000" stroke-width="0.25">126.100</text>
<rect x="1654" y="575" width="2" height="1" fill="#000"/>
<text x="1659.5" y="578.9" font-size="9.6" textLength="32.1" lengthAdjust="spacingAndGlyphs" stroke="#000" stroke-width="0.25">125.750</text>
<text x="1657.3" y="590.8" font-size="9.6" textLength="27.1" lengthAdjust="spacingAndGlyphs" stroke="#000" stroke-width="0.25">0.9206</text>
<text x="1657.3" y="692.9" font-size="9.6" textLength="17.3" lengthAdjust="spacingAndGlyphs" stroke="#000" stroke-width="0.25">0.00</text>
<text x="1657.3" y="746.9" font-size="9.6" textLength="25.2" lengthAdjust="spacingAndGlyphs" stroke="#000" stroke-width="0.25">-0.515</text>
<text x="1657.3" y="763.0" font-size="9.6" textLength="14.8" lengthAdjust="spacingAndGlyphs" stroke="#000" stroke-width="0.25">100</text>
<text x="1657.3" y="792.0" font-size="9.6" textLength="9.9" lengthAdjust="spacingAndGlyphs" stroke="#000" stroke-width="0.25">80</text>
<text x="1657.3" y="843.0" font-size="9.6" textLength="9.9" lengthAdjust="spacingAndGlyphs" stroke="#000" stroke-width="0.25">50</text>
<text x="1657.3" y="904.0" font-size="9.6" textLength="9.9" lengthAdjust="spacingAndGlyphs" stroke="#000" stroke-width="0.25">15</text>
<text x="1657.3" y="922.9" font-size="9.6" textLength="4.9" lengthAdjust="spacingAndGlyphs" stroke="#000" stroke-width="0.25">0</text>
<rect x="1654" y="582" width="1" height="1" fill="#000"/>
<rect x="1654" y="689" width="1" height="1" fill="#000"/>
<rect x="1654" y="749" width="1" height="1" fill="#000"/>
<rect x="1654" y="754" width="1" height="1" fill="#000"/>
<rect x="1654" y="924" width="1" height="1" fill="#000"/>
<rect x="0" y="579" width="1660" height="1" fill="#fff"/>
<rect x="0" y="751" width="1660" height="1" fill="#fff"/>
<rect x="1655" y="347" width="41" height="11" fill="#ff0000"/>
<text x="1659.5" y="356.5" font-size="9.6" textLength="32.1" lengthAdjust="spacingAndGlyphs" stroke="#fff" stroke-width="0.25" fill="#fff">128.126</text>
<rect x="1655" y="384" width="41" height="11" fill="#ff0000"/>
<text x="1659.5" y="393.5" font-size="9.6" textLength="32.1" lengthAdjust="spacingAndGlyphs" stroke="#fff" stroke-width="0.25" fill="#fff">127.722</text>
<rect x="1655" y="419" width="41" height="11" fill="#32cd32"/>
<text x="1659.5" y="428.5" font-size="9.6" textLength="32.1" lengthAdjust="spacingAndGlyphs" stroke="#fff" stroke-width="0.25" fill="#fff">127.356</text>
<rect x="1655" y="441" width="41" height="11" fill="#000000"/>
<text x="1659.5" y="450.5" font-size="9.6" textLength="32.1" lengthAdjust="spacingAndGlyphs" stroke="#fff" stroke-width="0.25" fill="#fff">127.122</text>
<rect x="1655" y="474" width="41" height="11" fill="#0000ff"/>
<text x="1659.5" y="483.5" font-size="9.6" textLength="32.1" lengthAdjust="spacingAndGlyphs" stroke="#fff" stroke-width="0.25" fill="#fff">126.769</text>
<rect x="1655" y="510" width="41" height="11" fill="#0000ff"/>
<text x="1659.5" y="519.5" font-size="9.6" textLength="32.1" lengthAdjust="spacingAndGlyphs" stroke="#fff" stroke-width="0.25" fill="#fff">126.377</text>
<rect x="-6" y="926" width="1" height="3" fill="#000"/>
<text x="-6.5" y="939.6" font-size="9.6" textLength="50.0" lengthAdjust="spacingAndGlyphs" stroke="#000" stroke-width="0.25">14 Apr 2022</text>
<rect x="58" y="926" width="1" height="3" fill="#000"/>
<text x="57.5" y="939.6" font-size="9.6" textLength="52.5" lengthAdjust="spacingAndGlyphs" stroke="#000" stroke-width="0.25">18 Apr 04:00</text>
<rect x="122" y="926" width="1" height="3" fill="#000"/>
<text x="121.5" y="939.6" font-size="9.6" textLength="52.5" lengthAdjust="spacingAndGlyphs" stroke="#000" stroke-width="0.25">19 Apr 12:00</text>
<rect x="186" y="926" width="1" height="3" fill="#000"/>
<text x="185.5" y="939.6" font-size="9.6" textLength="52.5" lengthAdjust="spacingAndGlyphs" stroke="#000" stroke-width="0.25">20 Apr 20:00</text>
<rect x="250" y="926" width="1" height="3" fill="#000"/>
<text x="249.5" y="939.6" font-size="9.6" textLength="52.5" lengthAdjust="spacingAndGlyphs" stroke="#000" stroke-width="0.25">22 Apr 04:00</text>
<rect x="314" y="926" width="1" height="3" fill="#000"/>
<text x="313.5" y="939.6" font-size="9.6" textLength="52.5" lengthAdjust="spacingAndGlyphs" stroke="#000" stroke-width="0.25">25 Apr 12:00</text>
<rect x="378" y="926" width="1" height="3" fill="#000"/>
<text x="377.5" y="939.6" font-size="9.6" textLength="52.5" lengthAdjust="spacingAndGlyphs" stroke="#000" stroke-width="0.25">26 Apr 20:00</text>
<rect x="442" y="926" width="1" height="3" fill="#000"/>
<text x="441.5" y="939.6" font-size="9.6" textLength="52.5" lengthAdjust="spacingAndGlyphs" stroke="#000" stroke-width="0.25">28 Apr 04:00</text>
<rect x="506" y="926" width="1" height="3" fill="#000"/>
<text x="505.5" y="939.6" font-size="9.6" textLength="52.5" lengthAdjust="spacingAndGlyphs" stroke="#000" stroke-width="0.25">29 Apr 12:00</text>
<rect x="570" y="926" width="1" height="3" fill="#000"/>
<text x="569.5" y="939.6" font-size="9.6" textLength="51.0" lengthAdjust="spacingAndGlyphs" stroke="#000" stroke-width="0.25">2 May 20:00</text>
<rect x="634" y="926" width="1" height="3" fill="#000"/>
<text x="633.5" y="939.6" font-size="9.6" textLength="51.0" lengthAdjust="spacingAndGlyphs" stroke="#000" stroke-width="0.25">4 May 04:00</text>
<rect x="698" y="926" width="1" height="3" fill="#000"/>
<text x="697.5" y="939.6" font-size="9.6" textLength="51.0" lengthAdjust="spacingAndGlyphs" stroke="#000" stroke-width="0.25">5 May 12:00</text>
<rect x="762" y="926" width="1" height="3" fill="#000"/>
<text x="761.5" y="939.6" font-size="9.6" textLength="51.0" lengthAdjust="spacingAndGlyphs" stroke="#000" stroke-width="0.25">8 May 23:00</text>
<rect x="826" y="926" width="1" height="3" fill="#000"/>
<text x="825.5" y="939.6" font-size="9.6" textLength="56.1" lengthAdjust="spacingAndGlyphs" stroke="#000" stroke-width="0.25">10 May 04:00</text>
<rect x="890" y="926" width="1" height="3" fill="#000"/>
<text x="889.5" y="939.6" font-size="9.6" textLength="55.4" lengthAdjust="spacingAndGlyphs" stroke="#000" stroke-width="0.25">11 May 12:00</text>
<rect x="954" y="926" width="1" height="3" fill="#000"/>
<text x="953.5" y="939.6" font-size="9.6" textLength="56.1" lengthAdjust="spacingAndGlyphs" stroke="#000" stroke-width="0.25">12 May 20:00</text>
<rect x="1018" y="926" width="1" height="3" fill="#000"/>
<text x="1017.5" y="939.6" font-size="9.6" textLength="56.1" lengthAdjust="spacingAndGlyphs" stroke="#000" stroke-width="0.25">16 May 04:00</text>
<rect x="1082" y="926" width="1" height="3" fill="#000"/>
<text x="1081.5" y="939.6" font-size="9.6" textLength="56.1" lengthAdjust="spacingAndGlyphs" stroke="#000" stroke-width="0.25">17 May 12:00</text>
<rect x="1146" y="926" width="1" height="3" fill="#000"/>
<text x="1145.5" y="939.6" font-size="9.6" textLength="56.1" lengthAdjust="spacingAndGlyphs" stroke="#000" stroke-width="0.25">18 May 20:00</text>
<rect x="1210" y="926" width="1" height="3" fill="#000"/>
<text x="1209.5" y="939.6" font-size="9.6" textLength="56.1" lengthAdjust="spacingAndGlyphs" stroke="#000" stroke-width="0.25">20 May 04:00</text>
<rect x="1274" y="926" width="1" height="3" fill="#000"/>
<text x="1273.5" y="939.6" font-size="9.6" textLength="56.1" lengthAdjust="spacingAndGlyphs" stroke="#000" stroke-width="0.25">23 May 12:00</text>
<rect x="1338" y="926" width="1" height="3" fill="#000"/>
<text x="1337.5" y="939.6" font-size="9.6" textLength="56.1" lengthAdjust="spacingAndGlyphs" stroke="#000" stroke-width="0.25">24 May 20:00</text>
<rect x="1402" y="926" width="1" height="3" fill="#000"/>
<text x="1401.5" y="939.6" font-size="9.6" textLength="56.1" lengthAdjust="spacingAndGlyphs" stroke="#000" stroke-width="0.25">26 May 04:00</text>
<polygon points="0,32 0,36.5 4.5,36.5" fill="#000"/>
<text x="9.2" y="37.0" font-size="9.6" textLength="200.0" lengthAdjust="spacingAndGlyphs" stroke="#000" stroke-width="0.25">USDJPY-,H4&#160; 127.090 127.129 127.090 127.122</text>
<text x="-1" y="593.3" font-size="9.6" textLength="132.3" lengthAdjust="spacingAndGlyphs" stroke="#000" stroke-width="0.25">MACD(12,26,9) -0.2065 -0.2631</text>
<text x="-1.5" y="765.3" font-size="9.6" textLength="68.0" lengthAdjust="spacingAndGlyphs" stroke="#000" stroke-width="0.25">RSI(14) 46.1097</text>
</svg>
<div id="rstrip"></div>
<svg id="tbar" width="1700" height="26" viewBox="0 0 1700 26">
<rect x="0" y="0" width="1700" height="20" fill="#f0f0f0"/>
<rect x="0" y="20" width="1700" height="1" fill="#f8f8f8"/>
<rect x="0" y="21" width="1700" height="1" fill="#a8a8a8"/>
<rect x="0" y="22" width="1700" height="1" fill="#707070"/>
<rect x="0" y="23" width="1700" height="2" fill="#ffffff"/>
<rect x="0" y="25" width="1654" height="1" fill="#000000"/>
<defs>
<linearGradient id="gold" x1="0" y1="0" x2="1" y2="1"><stop offset="0" stop-color="#ffe27a"/><stop offset="1" stop-color="#c8860a"/></linearGradient>
<linearGradient id="blu" x1="0" y1="0" x2="0" y2="1"><stop offset="0" stop-color="#7ab8f5"/><stop offset="1" stop-color="#1c5fc0"/></linearGradient>
<linearGradient id="grn" x1="0" y1="0" x2="0" y2="1"><stop offset="0" stop-color="#4be04b"/><stop offset="1" stop-color="#0a9a0a"/></linearGradient>
<radialGradient id="lens" cx="0.4" cy="0.35" r="0.7"><stop offset="0" stop-color="#ffffff"/><stop offset="1" stop-color="#a8d4f8"/></radialGradient>
<radialGradient id="redb" cx="0.4" cy="0.3" r="0.8"><stop offset="0" stop-color="#ff6a50"/><stop offset="1" stop-color="#d01808"/></radialGradient>
<radialGradient id="plus" cx="0.45" cy="0.4" r="0.7"><stop offset="0" stop-color="#7dff8a"/><stop offset="0.45" stop-color="#16f03a"/><stop offset="1" stop-color="#12b82a"/></radialGradient>
<linearGradient id="cloud" x1="0" y1="0" x2="0" y2="1"><stop offset="0" stop-color="#ffffff"/><stop offset="1" stop-color="#b8c4d8"/></linearGradient>
<linearGradient id="yel" x1="0" y1="0" x2="1" y2="1"><stop offset="0" stop-color="#fff080"/><stop offset="1" stop-color="#e0a008"/></linearGradient>
<linearGradient id="rg" x1="0" y1="0" x2="1" y2="0"><stop offset="0" stop-color="#7aa0e8"/><stop offset="0.55" stop-color="#a8c8e8"/><stop offset="1" stop-color="#88c488"/></linearGradient>
<linearGradient id="blu2" x1="0" y1="0" x2="1" y2="1"><stop offset="0" stop-color="#3ca0f8"/><stop offset="1" stop-color="#0860d0"/></linearGradient>
</defs>
<circle cx="-4.5" cy="7" r="5.5" fill="url(#lens)" stroke="#5a9ad8" stroke-width="1.5"/>
<line x1="0" y1="11.5" x2="5" y2="17" stroke="#d0a020" stroke-width="2.6" stroke-linecap="round"/>
<rect x="14" y="1" width="1" height="18" fill="#a0a0a0"/>
<path d="M24.6,1.7 h7.6 l3.3,3.4 v9.3 h-10.9 z" fill="#fff" stroke="#686868" stroke-width="1.1" stroke-linejoin="round"/>
<path d="M32.2,1.7 v3.4 h3.3" fill="none" stroke="#686868" stroke-width="1"/>
<rect x="26" y="3" width="2.9" height="1.7" fill="#808080"/>
<path d="M26,7.5 h6 M26,9.5 h4.8 M26,11.5 h2" stroke="#808080" stroke-width="0.9"/>
<path d="M32,7.3 h4 v4 h4 v3.7 h-4 v3.8 h-4 v-3.8 h-4 v-3.7 h4 z" fill="url(#plus)" stroke="#078a07" stroke-width="0.8"/>
<text x="43" y="12.3" font-size="13.3" fill="#000" class="tb" textLength="64.5">New Order</text>
<path d="M125.5,2.1 L135.7,10 L135.7,11.6 L127.8,16.8 L120.1,10.9 L121,9.4 z" fill="#b07808"/>
<path d="M125.8,2.8 L134.2,8.7 L127.8,14.6 L121.3,9.7 z" fill="url(#gold)"/>
<path d="M134.4,9.4 L135.3,10.4 L128,15.9 L127.9,15 z" fill="#f0e0a0"/>
<path d="M150.2,2.2 L153.5,1.2 h7.4 v8.6 h-10.7 z" fill="#1e90f0" stroke="#1878d8" stroke-width="0.5"/>
<path d="M150.2,2.2 L153.5,1.2 h7.4 l-3.4,1.6 h-4.2 z" fill="#6cc0ff"/>
<path d="M153.4,3 v7" stroke="#d8f0ff" stroke-width="0.5"/>
<rect x="155.2" y="5.7" width="4.2" height="1" fill="#e8f4ff"/>
<path d="M150.8,16.3 a3.1,3.1 0 0 1 0.4,-5.9 a2.6,2.6 0 0 1 3.6,-0.7 a3.3,3.3 0 0 1 5.4,0.4 a2.4,2.4 0 0 1 3.2,1.2 a2.6,2.6 0 0 1 -0.4,5 z" fill="url(#cloud)" stroke="#4868a8" stroke-width="0.8"/>
<circle cx="184" cy="9" r="7.6" fill="none" stroke="url(#rg)" stroke-width="1.2" opacity="0.8"/>
<circle cx="184" cy="9" r="4.9" fill="none" stroke="url(#rg)" stroke-width="1.3" opacity="0.85"/>
<path d="M184.2,9 L184.2,16.8 A7.8,7.8 0 0 0 191.6,10.5 z" fill="#58b058" opacity="0.55"/>
<circle cx="183.7" cy="8.7" r="2.1" fill="#2a5ad8"/>
<path d="M184.5,9 V16.8" stroke="#10a010" stroke-width="1.3"/>
<path d="M203.3,8.4 L218.8,7.6 L211.6,16.6 L209.8,16.6 z" fill="url(#yel)" stroke="#c89818" stroke-width="0.6"/>
<ellipse cx="211.1" cy="6" rx="7.9" ry="2.5" fill="#5cb4ea" stroke="#2484bc" stroke-width="0.7" transform="rotate(-4 211 6)"/>
<ellipse cx="211.2" cy="3.9" rx="3.9" ry="2.8" fill="#74c0f0" stroke="#2484bc" stroke-width="0.6"/>
<ellipse cx="211" cy="5.6" rx="4.2" ry="1.2" fill="#74c0f0"/>
<circle cx="215.4" cy="12.8" r="4.1" fill="url(#redb)" stroke="#c02008" stroke-width="0.5"/>
<rect x="214.1" y="11.3" width="2.8" height="2.8" fill="#fff"/>
<text x="224.3" y="12.3" font-size="13.3" fill="#000" class="tb" textLength="71">AutoTrading</text>
<rect x="303" y="1" width="1" height="18" fill="#a0a0a0"/>
<rect x="307" y="2" width="3" height="1" fill="#b4b4b4"/>
<rect x="307" y="4" width="3" height="1" fill="#b4b4b4"/>
<rect x="307" y="6" width="3" height="1" fill="#b4b4b4"/>
<rect x="307" y="8" width="3" height="1" fill="#b4b4b4"/>
<rect x="307" y="10" width="3" height="1" fill="#b4b4b4"/>
<rect x="307" y="12" width="3" height="1" fill="#b4b4b4"/>
<rect x="307" y="14" width="3" height="1" fill="#b4b4b4"/>
<rect x="307" y="16" width="3" height="1" fill="#b4b4b4"/>
<rect x="307" y="18" width="3" height="1" fill="#b4b4b4"/>
<g stroke="#585858" stroke-width="1" fill="none"><path d="M321.5,3 V16.5 M319,14.5 H333"/><path d="M320,5 L321.5,3 L323,5 M331,13 L333,14.5 L331,16"/></g>
<path d="M326.5,4 V13 M326.5,5 h2.5 M324,12 h2.5" stroke="#10a010" stroke-width="1.4" fill="none"/>
<rect x="343" y="0" width="23" height="19" fill="#f8f8f8"/>
<rect x="342" y="0" width="1" height="19" fill="#a0a0a0"/>
<g stroke="#585858" stroke-width="1" fill="none"><path d="M350.5,3 V16.5 M348,14.5 H362"/><path d="M349,5 L350.5,3 L352,5 M360,13 L362,14.5 L360,16"/></g>
<rect x="353.5" y="3" width="4" height="7.5" fill="#20c020" stroke="#108010" stroke-width="0.8"/><path d="M355.5,1 v2 M355.5,10.5 v2.5" stroke="#108010" stroke-width="1.2"/>
<g stroke="#585858" stroke-width="1" fill="none"><path d="M378.5,3 V16.5 M376,14.5 H390"/><path d="M377,5 L378.5,3 L380,5 M388,13 L390,14.5 L388,16"/></g>
<path d="M377,12 q4,-8 7,-6 t4,4" stroke="#10a010" stroke-width="1.3" fill="none"/>
<rect x="398" y="1" width="1" height="18" fill="#a0a0a0"/>
<line x1="417" y1="11" x2="422" y2="16" stroke="#d8a820" stroke-width="2.6" stroke-linecap="round"/>
<circle cx="413" cy="7" r="5.3" fill="url(#lens)" stroke="#4a90d8" stroke-width="1.5"/>
<path d="M410,7 h6" stroke="#2a70c0" stroke-width="1.6"/>
<path d="M413,4 v6" stroke="#2a70c0" stroke-width="1.6"/>
<line x1="445" y1="11" x2="450" y2="16" stroke="#d8a820" stroke-width="2.6" stroke-linecap="round"/>
<circle cx="441" cy="7" r="5.3" fill="url(#lens)" stroke="#4a90d8" stroke-width="1.5"/>
<path d="M438,7 h6" stroke="#2a70c0" stroke-width="1.6"/>
<rect x="463" y="1.5" width="7.5" height="7.5" fill="#5cb030"/>
<rect x="464.2" y="4.5" width="5" height="3" fill="#e8f0ff" opacity="0.9"/>
<rect x="471.5" y="1.5" width="7.5" height="7.5" fill="#2a5ed0"/>
<rect x="472.7" y="4.5" width="5" height="3" fill="#e8f0ff" opacity="0.9"/>
<rect x="463" y="9.5" width="7.5" height="7.5" fill="#2a5ed0"/>
<rect x="464.2" y="12.5" width="5" height="3" fill="#e8f0ff" opacity="0.9"/>
<rect x="471.5" y="9.5" width="7.5" height="7.5" fill="#5cb030"/>
<rect x="472.7" y="12.5" width="5" height="3" fill="#e8f0ff" opacity="0.9"/>
<rect x="488" y="1" width="1" height="18" fill="#a0a0a0"/>
<rect x="493" y="0" width="25" height="19" fill="#f8f8f8"/>
<rect x="492" y="0" width="1" height="19" fill="#a0a0a0"/>
<g stroke="#585858" stroke-width="1" fill="none"><path d="M502.5,3 V16.5 M500,14.5 H514"/><path d="M501,5 L502.5,3 L504,5 M512,13 L514,14.5 L512,16"/></g>
<polygon points="506,5 506,11.5 510,8.2" fill="#30c030" stroke="#109010" stroke-width="0.6"/>
<rect x="522" y="0" width="25" height="19" fill="#f8f8f8"/>
<rect x="521" y="0" width="1" height="19" fill="#a0a0a0"/>
<g stroke="#585858" stroke-width="1" fill="none"><path d="M530.5,3 V16.5 M528,14.5 H542"/><path d="M529,5 L530.5,3 L532,5 M540,13 L542,14.5 L540,16"/></g>
<path d="M535.5,3 v10" stroke="#2060c0" stroke-width="1.3"/><path d="M541,8.5 h-4 m1.8,-1.8 l-1.8,1.8 l1.8,1.8" stroke="#d03010" stroke-width="1.1" fill="none"/>
<rect x="550" y="1" width="1" height="18" fill="#a0a0a0"/>
<path d="M560.6,1.7 h7.6 l3.3,3.4 v9.3 h-10.9 z" fill="#fff" stroke="#686868" stroke-width="1.1" stroke-linejoin="round"/>
<path d="M568.2,1.7 v3.4 h3.3" fill="none" stroke="#686868" stroke-width="1"/>
<rect x="562" y="3" width="2.9" height="1.7" fill="#808080"/>
<path d="M562,7.5 h6 M562,9.5 h4.8 M562,11.5 h2" stroke="#808080" stroke-width="0.9"/>
<path d="M568,7.3 h4 v4 h4 v3.7 h-4 v3.8 h-4 v-3.8 h-4 v-3.7 h4 z" fill="url(#plus)" stroke="#078a07" stroke-width="0.8"/>
<polygon points="582,8 587,8 584.5,11" fill="#000"/>
<circle cx="606.1" cy="8.9" r="7.3" fill="#0a58b8"/>
<circle cx="606.1" cy="8.9" r="6.7" fill="url(#blu2)"/>
<circle cx="606.1" cy="8.9" r="5.1" fill="#fbfdff" stroke="#7ab0e8" stroke-width="0.5"/>
<g stroke="#909090" stroke-width="0.6"><path d="M606.1,4.5 v1 M606.1,12.3 v1 M601.7,8.9 h1 M609.5,8.9 h1 M603,5.8 l0.6,0.6 M609.2,5.8 l-0.6,0.6 M603,12 l0.6,-0.6 M609.2,12 l-0.6,-0.6"/></g>
<path d="M605.5,5.2 L606.1,8.9 L608.8,8.7" stroke="#202020" stroke-width="1.2" fill="none"/>
<polygon points="621,8 626,8 623.5,11" fill="#000"/>
<rect x="637.5" y="2.4" width="15.2" height="13.2" fill="#fff" stroke="#3878c8" stroke-width="1"/>
<rect x="637.2" y="2.1" width="15.8" height="2.7" fill="#4a88d8"/>
<rect x="638.5" y="2.8" width="6" height="0.8" fill="#a8d0f8"/>
<rect x="638" y="9.9" width="14.2" height="1.1" fill="#88b0e8"/>
<path d="M639,8.7 L641.4,8.5 L643,7.3 L645,6.4 L646.8,7.4 L648.5,7.3 L650.6,6.4" stroke="#a02000" stroke-width="1.2" fill="none"/>
<path d="M640,13.6 L642.8,12.3 L645.2,13.6 L648,11.3 L650.6,13.6" stroke="#10a020" stroke-width="1.2" fill="none"/>
<polygon points="660,8 665,8 662.5,11" fill="#000"/>
<rect x="671" y="1" width="1" height="18" fill="#a0a0a0"/>
<rect x="675" y="2" width="3" height="1" fill="#b4b4b4"/>
<rect x="675" y="4" width="3" height="1" fill="#b4b4b4"/>
<rect x="675" y="6" width="3" height="1" fill="#b4b4b4"/>
<rect x="675" y="8" width="3" height="1" fill="#b4b4b4"/>
<rect x="675" y="10" width="3" height="1" fill="#b4b4b4"/>
<rect x="675" y="12" width="3" height="1" fill="#b4b4b4"/>
<rect x="675" y="14" width="3" height="1" fill="#b4b4b4"/>
<rect x="675" y="16" width="3" height="1" fill="#b4b4b4"/>
<rect x="675" y="18" width="3" height="1" fill="#b4b4b4"/>
<rect x="682" y="0" width="24" height="19" fill="#f8f8f8"/>
<rect x="681" y="0" width="1" height="19" fill="#a0a0a0"/>
<path d="M689,2.5 V14 L691.8,11.5 L694,16 L695.8,15.2 L693.7,10.8 L697.3,10.6 z" fill="#404040"/>
<path d="M714,9.5 h6 M723,9.5 h6 M721.5,2 v6 M721.5,11 v6" stroke="#484848" stroke-width="1"/><rect x="721" y="9" width="1" height="1" fill="#484848"/>
<rect x="738" y="1" width="1" height="18" fill="#a0a0a0"/>
<path d="M755.5,3 v13" stroke="#505050" stroke-width="1"/>
<path d="M778,9.5 h12" stroke="#505050" stroke-width="1"/>
<path d="M806,16 L818,4" stroke="#585858" stroke-width="1"/>
<g stroke="#505050" stroke-width="1.1"><path d="M832,13.5 L844,2.5 M835,16 L846,6"/><path d="M834,9 l3,4 M837,6.5 l3,4 M840,4 l3,4" stroke-width="0.9"/></g>
<text x="842.5" y="18" font-size="7" font-weight="bold" fill="#303030" class="tb">E</text>
<line x1="861" y1="2.5" x2="875" y2="2.5" stroke="#505050" stroke-width="1" stroke-dasharray="1,1"/>
<line x1="861" y1="6" x2="875" y2="6" stroke="#505050" stroke-width="1" stroke-dasharray="1,1"/>
<line x1="861" y1="9.5" x2="875" y2="9.5" stroke="#505050" stroke-width="1" stroke-dasharray="1,1"/>
<line x1="861" y1="13" x2="870" y2="13" stroke="#505050" stroke-width="1" stroke-dasharray="1,1"/>
<text x="870.5" y="18" font-size="7" font-weight="bold" fill="#303030" class="tb">F</text>
<text x="891" y="14" font-size="12.5" fill="#555" class="tb">A</text>
<rect x="917.5" y="3.5" width="12" height="12" fill="none" stroke="#505050" stroke-width="1" stroke-dasharray="1,1" shape-rendering="crispEdges"/>
<text x="919.6" y="14" font-size="12" font-weight="bold" fill="#555" class="tb">T</text>
<path d="M949,2.5 l3,3 l-3,3 l-3,-3 z M955.5,9.5 l3.3,3.3 l-3.3,3.3 l-3.3,-3.3 z" fill="#404040"/>
<path d="M946.5,10.5 l2.2,2.2 l4,-5" stroke="#404040" stroke-width="1.2" fill="none"/>
<polygon points="966,8 971,8 968.5,11" fill="#000"/>
<rect x="977" y="1" width="1" height="18" fill="#a0a0a0"/>
<rect x="981" y="2" width="3" height="1" fill="#b4b4b4"/>
<rect x="981" y="4" width="3" height="1" fill="#b4b4b4"/>
<rect x="981" y="6" width="3" height="1" fill="#b4b4b4"/>
<rect x="981" y="8" width="3" height="1" fill="#b4b4b4"/>
<rect x="981" y="10" width="3" height="1" fill="#b4b4b4"/>
<rect x="981" y="12" width="3" height="1" fill="#b4b4b4"/>
<rect x="981" y="14" width="3" height="1" fill="#b4b4b4"/>
<rect x="981" y="16" width="3" height="1" fill="#b4b4b4"/>
<rect x="981" y="18" width="3" height="1" fill="#b4b4b4"/>
<rect x="1128" y="0" width="25" height="19" fill="#f8f8f8"/>
<rect x="1127" y="0" width="1" height="19" fill="#a0a0a0"/>
<text x="992" y="12.4" font-size="9.8" fill="#444" class="tb">M1</text>
<text x="1020.3" y="12.4" font-size="9.8" fill="#444" class="tb">M5</text>
<text x="1046.4" y="12.4" font-size="9.8" fill="#444" class="tb">M15</text>
<text x="1074.6" y="12.4" font-size="9.8" fill="#444" class="tb">M30</text>
<text x="1105.6" y="12.4" font-size="9.8" fill="#444" class="tb">H1</text>
<text x="1132.4" y="12.4" font-size="9.8" fill="#444" class="tb">H4</text>
<text x="1161.4" y="12.4" font-size="9.8" fill="#444" class="tb">D1</text>
<text x="1189.2" y="12.4" font-size="9.8" fill="#444" class="tb">W1</text>
<text x="1215.6" y="12.4" font-size="9.8" fill="#444" class="tb">MN</text>
<rect x="1238" y="1" width="1" height="18" fill="#a0a0a0"/>
<circle cx="1655.5" cy="6.5" r="3.6" fill="#fff" stroke="#2a5ed0" stroke-width="1.5"/><line x1="1653" y1="9.5" x2="1648.5" y2="14.5" stroke="#2a5ed0" stroke-width="2" stroke-linecap="round"/>
<path d="M1673,9 a6,4.5 0 1 1 5,7 l-3,2 l0.5,-2.5 a5,4 0 0 1 -2.5,-6.5 z" fill="#e8e8e8" stroke="#b0b0b0" stroke-width="0.7"/>
<circle cx="1686" cy="6" r="8" fill="url(#redb)"/>
<text x="1682.8" y="10.5" font-size="12" fill="#fff" class="tb">1</text>
</svg>
<div class="oc" id="sell"><span class="bt" style="left:9px">SELL</span><div class="ul" style="left:1px;width:44px"></div></div>
<div class="oc" id="sellp"><span class="sm" style="left:20px">127</span><span class="bg" style="left:43.5px">12</span><span class="sp" style="left:84px">2</span></div>
<div id="lot"><div class="spin" style="left:0px"><svg width="17" height="16" style="position:absolute;left:0;top:0"><polygon points="6.5,7.5 11.5,7.5 9,10.5" fill="#4060c0"/></svg></div><span id="lotv">1.00</span><div class="spin" style="right:0px"><svg width="17" height="16" style="position:absolute;left:0;top:0"><polygon points="6.5,10.5 11.5,10.5 9,7.5" fill="#4060c0"/></svg></div></div>
<div class="oc" id="buy"><span class="bt" style="left:13px">BUY</span><div class="ul" style="left:3px;width:44px"></div></div>
<div class="oc" id="buyp"><span class="sm" style="left:21.3px">127</span><span class="bg" style="left:46px">14</span><span class="sp" style="left:85.8px">7</span></div>
</body></html>
